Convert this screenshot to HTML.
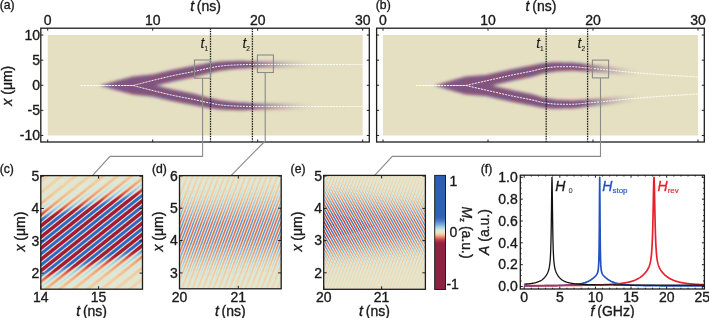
<!DOCTYPE html><html><head><meta charset="utf-8"><style>html,body{margin:0;padding:0;background:#fff;overflow:hidden}svg{display:block}</style></head><body><svg width="709" height="318" viewBox="0 0 709 318" font-family='"Liberation Sans", "DejaVu Sans", sans-serif'>
<defs><pattern id="chk" patternUnits="userSpaceOnUse" x="0" y="0" width="2" height="2"><rect width="2" height="2" fill="#56609c"/><rect width="1" height="1" fill="#84567e"/><rect x="1" y="1" width="1" height="1" fill="#84567e"/></pattern><linearGradient id="sg1" gradientUnits="userSpaceOnUse" spreadMethod="repeat" x1="40.8" y1="175.6" x2="46.26" y2="182.43"><stop offset="0.000" stop-color="#e0e6d3"/><stop offset="0.050" stop-color="#e0e6d2"/><stop offset="0.100" stop-color="#e1e6d1"/><stop offset="0.150" stop-color="#e3e5ce"/><stop offset="0.200" stop-color="#e6e4ca"/><stop offset="0.250" stop-color="#e9e3c6"/><stop offset="0.300" stop-color="#eadebf"/><stop offset="0.350" stop-color="#ebdab9"/><stop offset="0.400" stop-color="#ecd7b4"/><stop offset="0.450" stop-color="#edd5b1"/><stop offset="0.500" stop-color="#edd4b0"/><stop offset="0.550" stop-color="#edd5b1"/><stop offset="0.600" stop-color="#ecd7b4"/><stop offset="0.650" stop-color="#ebdab9"/><stop offset="0.700" stop-color="#eadebf"/><stop offset="0.750" stop-color="#e9e3c6"/><stop offset="0.800" stop-color="#e6e4ca"/><stop offset="0.850" stop-color="#e3e5ce"/><stop offset="0.900" stop-color="#e1e6d1"/><stop offset="0.950" stop-color="#e0e6d2"/><stop offset="1.000" stop-color="#e0e6d3"/></linearGradient><linearGradient id="sg2" gradientUnits="userSpaceOnUse" spreadMethod="repeat" x1="40.8" y1="175.6" x2="46.26" y2="182.43"><stop offset="0.000" stop-color="#dee7d6"/><stop offset="0.050" stop-color="#dee7d5"/><stop offset="0.100" stop-color="#e0e6d3"/><stop offset="0.150" stop-color="#e2e5cf"/><stop offset="0.200" stop-color="#e5e4cb"/><stop offset="0.250" stop-color="#e9e3c6"/><stop offset="0.300" stop-color="#eaddbe"/><stop offset="0.350" stop-color="#ecd8b6"/><stop offset="0.400" stop-color="#edd4b0"/><stop offset="0.450" stop-color="#edd2ad"/><stop offset="0.500" stop-color="#eed1ab"/><stop offset="0.550" stop-color="#edd2ad"/><stop offset="0.600" stop-color="#edd4b0"/><stop offset="0.650" stop-color="#ecd8b6"/><stop offset="0.700" stop-color="#eaddbe"/><stop offset="0.750" stop-color="#e9e3c6"/><stop offset="0.800" stop-color="#e5e4cb"/><stop offset="0.850" stop-color="#e2e5cf"/><stop offset="0.900" stop-color="#e0e6d3"/><stop offset="0.950" stop-color="#dee7d5"/><stop offset="1.000" stop-color="#dee7d6"/></linearGradient><linearGradient id="sg3" gradientUnits="userSpaceOnUse" spreadMethod="repeat" x1="40.8" y1="175.6" x2="46.26" y2="182.43"><stop offset="0.000" stop-color="#dae9db"/><stop offset="0.050" stop-color="#dbe8da"/><stop offset="0.100" stop-color="#dde8d7"/><stop offset="0.150" stop-color="#e0e6d2"/><stop offset="0.200" stop-color="#e4e5cc"/><stop offset="0.250" stop-color="#e9e3c6"/><stop offset="0.300" stop-color="#ebdcbb"/><stop offset="0.350" stop-color="#edd5b1"/><stop offset="0.400" stop-color="#eed0a9"/><stop offset="0.450" stop-color="#efcca4"/><stop offset="0.500" stop-color="#efcba2"/><stop offset="0.550" stop-color="#efcca4"/><stop offset="0.600" stop-color="#eed0a9"/><stop offset="0.650" stop-color="#edd5b1"/><stop offset="0.700" stop-color="#ebdcbb"/><stop offset="0.750" stop-color="#e9e3c6"/><stop offset="0.800" stop-color="#e4e5cc"/><stop offset="0.850" stop-color="#e0e6d2"/><stop offset="0.900" stop-color="#dde8d7"/><stop offset="0.950" stop-color="#dbe8da"/><stop offset="1.000" stop-color="#dae9db"/></linearGradient><linearGradient id="sg4" gradientUnits="userSpaceOnUse" spreadMethod="repeat" x1="40.8" y1="175.6" x2="46.26" y2="182.43"><stop offset="0.000" stop-color="#d6eae0"/><stop offset="0.050" stop-color="#d7eadf"/><stop offset="0.100" stop-color="#dae9db"/><stop offset="0.150" stop-color="#dee7d5"/><stop offset="0.200" stop-color="#e3e5ce"/><stop offset="0.250" stop-color="#e9e3c6"/><stop offset="0.300" stop-color="#ebdab8"/><stop offset="0.350" stop-color="#eed1ac"/><stop offset="0.400" stop-color="#efcba2"/><stop offset="0.450" stop-color="#f0c49b"/><stop offset="0.500" stop-color="#efc198"/><stop offset="0.550" stop-color="#f0c49b"/><stop offset="0.600" stop-color="#efcba2"/><stop offset="0.650" stop-color="#eed1ac"/><stop offset="0.700" stop-color="#ebdab8"/><stop offset="0.750" stop-color="#e9e3c6"/><stop offset="0.800" stop-color="#e3e5ce"/><stop offset="0.850" stop-color="#dee7d5"/><stop offset="0.900" stop-color="#dae9db"/><stop offset="0.950" stop-color="#d7eadf"/><stop offset="1.000" stop-color="#d6eae0"/></linearGradient><linearGradient id="sg5" gradientUnits="userSpaceOnUse" spreadMethod="repeat" x1="40.8" y1="175.6" x2="46.26" y2="182.43"><stop offset="0.000" stop-color="#cde5e1"/><stop offset="0.050" stop-color="#d0e7e1"/><stop offset="0.100" stop-color="#d7eadf"/><stop offset="0.150" stop-color="#dce8d8"/><stop offset="0.200" stop-color="#e2e6d0"/><stop offset="0.250" stop-color="#e9e3c6"/><stop offset="0.300" stop-color="#ecd8b6"/><stop offset="0.350" stop-color="#eecea7"/><stop offset="0.400" stop-color="#efc39a"/><stop offset="0.450" stop-color="#eeb791"/><stop offset="0.500" stop-color="#edb28d"/><stop offset="0.550" stop-color="#eeb791"/><stop offset="0.600" stop-color="#efc39a"/><stop offset="0.650" stop-color="#eecea7"/><stop offset="0.700" stop-color="#ecd8b6"/><stop offset="0.750" stop-color="#e9e3c6"/><stop offset="0.800" stop-color="#e2e6d0"/><stop offset="0.850" stop-color="#dce8d8"/><stop offset="0.900" stop-color="#d7eadf"/><stop offset="0.950" stop-color="#d0e7e1"/><stop offset="1.000" stop-color="#cde5e1"/></linearGradient><linearGradient id="sg6" gradientUnits="userSpaceOnUse" spreadMethod="repeat" x1="40.8" y1="175.6" x2="46.26" y2="182.43"><stop offset="0.000" stop-color="#c4e0e2"/><stop offset="0.050" stop-color="#c7e2e2"/><stop offset="0.100" stop-color="#d0e7e1"/><stop offset="0.150" stop-color="#d9e9db"/><stop offset="0.200" stop-color="#e1e6d1"/><stop offset="0.250" stop-color="#e9e3c6"/><stop offset="0.300" stop-color="#ecd6b3"/><stop offset="0.350" stop-color="#efcaa1"/><stop offset="0.400" stop-color="#eeb791"/><stop offset="0.450" stop-color="#eca986"/><stop offset="0.500" stop-color="#eca482"/><stop offset="0.550" stop-color="#eca986"/><stop offset="0.600" stop-color="#eeb791"/><stop offset="0.650" stop-color="#efcaa1"/><stop offset="0.700" stop-color="#ecd6b3"/><stop offset="0.750" stop-color="#e9e3c6"/><stop offset="0.800" stop-color="#e1e6d1"/><stop offset="0.850" stop-color="#d9e9db"/><stop offset="0.900" stop-color="#d0e7e1"/><stop offset="0.950" stop-color="#c7e2e2"/><stop offset="1.000" stop-color="#c4e0e2"/></linearGradient><linearGradient id="sg7" gradientUnits="userSpaceOnUse" spreadMethod="repeat" x1="40.8" y1="175.6" x2="46.26" y2="182.43"><stop offset="0.000" stop-color="#badce4"/><stop offset="0.050" stop-color="#bedde3"/><stop offset="0.100" stop-color="#c8e3e2"/><stop offset="0.150" stop-color="#d7eade"/><stop offset="0.200" stop-color="#e0e6d3"/><stop offset="0.250" stop-color="#e9e3c6"/><stop offset="0.300" stop-color="#edd4b0"/><stop offset="0.350" stop-color="#f0c59c"/><stop offset="0.400" stop-color="#ecac88"/><stop offset="0.450" stop-color="#ea9b7b"/><stop offset="0.500" stop-color="#ea9577"/><stop offset="0.550" stop-color="#ea9b7b"/><stop offset="0.600" stop-color="#ecac88"/><stop offset="0.650" stop-color="#f0c59c"/><stop offset="0.700" stop-color="#edd4b0"/><stop offset="0.750" stop-color="#e9e3c6"/><stop offset="0.800" stop-color="#e0e6d3"/><stop offset="0.850" stop-color="#d7eade"/><stop offset="0.900" stop-color="#c8e3e2"/><stop offset="0.950" stop-color="#bedde3"/><stop offset="1.000" stop-color="#badce4"/></linearGradient><linearGradient id="sg8" gradientUnits="userSpaceOnUse" spreadMethod="repeat" x1="40.8" y1="175.6" x2="46.26" y2="182.43"><stop offset="0.000" stop-color="#b1d7e5"/><stop offset="0.050" stop-color="#b5d9e4"/><stop offset="0.100" stop-color="#c1dfe3"/><stop offset="0.150" stop-color="#d3e9e0"/><stop offset="0.200" stop-color="#dee7d4"/><stop offset="0.250" stop-color="#e9e3c6"/><stop offset="0.300" stop-color="#edd2ad"/><stop offset="0.350" stop-color="#efbd95"/><stop offset="0.400" stop-color="#eba07f"/><stop offset="0.450" stop-color="#e98d71"/><stop offset="0.500" stop-color="#e8876c"/><stop offset="0.550" stop-color="#e98d71"/><stop offset="0.600" stop-color="#eba07f"/><stop offset="0.650" stop-color="#efbd95"/><stop offset="0.700" stop-color="#edd2ad"/><stop offset="0.750" stop-color="#e9e3c6"/><stop offset="0.800" stop-color="#dee7d4"/><stop offset="0.850" stop-color="#d3e9e0"/><stop offset="0.900" stop-color="#c1dfe3"/><stop offset="0.950" stop-color="#b5d9e4"/><stop offset="1.000" stop-color="#b1d7e5"/></linearGradient><linearGradient id="sg9" gradientUnits="userSpaceOnUse" spreadMethod="repeat" x1="40.8" y1="175.6" x2="46.26" y2="182.43"><stop offset="0.000" stop-color="#a8d2e6"/><stop offset="0.050" stop-color="#add4e5"/><stop offset="0.100" stop-color="#badbe4"/><stop offset="0.150" stop-color="#cee6e1"/><stop offset="0.200" stop-color="#dde7d6"/><stop offset="0.250" stop-color="#e9e3c6"/><stop offset="0.300" stop-color="#eed0ab"/><stop offset="0.350" stop-color="#eeb48f"/><stop offset="0.400" stop-color="#ea9476"/><stop offset="0.450" stop-color="#e57f68"/><stop offset="0.500" stop-color="#e27765"/><stop offset="0.550" stop-color="#e57f68"/><stop offset="0.600" stop-color="#ea9476"/><stop offset="0.650" stop-color="#eeb48f"/><stop offset="0.700" stop-color="#eed0ab"/><stop offset="0.750" stop-color="#e9e3c6"/><stop offset="0.800" stop-color="#dde7d6"/><stop offset="0.850" stop-color="#cee6e1"/><stop offset="0.900" stop-color="#badbe4"/><stop offset="0.950" stop-color="#add4e5"/><stop offset="1.000" stop-color="#a8d2e6"/></linearGradient><linearGradient id="sg10" gradientUnits="userSpaceOnUse" spreadMethod="repeat" x1="40.8" y1="175.6" x2="46.26" y2="182.43"><stop offset="0.000" stop-color="#9fcbe4"/><stop offset="0.050" stop-color="#a4cfe5"/><stop offset="0.100" stop-color="#b2d7e5"/><stop offset="0.150" stop-color="#c9e3e2"/><stop offset="0.200" stop-color="#dce8d8"/><stop offset="0.250" stop-color="#e9e3c6"/><stop offset="0.300" stop-color="#eecfa8"/><stop offset="0.350" stop-color="#edac88"/><stop offset="0.400" stop-color="#e8886d"/><stop offset="0.450" stop-color="#df7062"/><stop offset="0.500" stop-color="#dc685e"/><stop offset="0.550" stop-color="#df7062"/><stop offset="0.600" stop-color="#e8886d"/><stop offset="0.650" stop-color="#edac88"/><stop offset="0.700" stop-color="#eecfa8"/><stop offset="0.750" stop-color="#e9e3c6"/><stop offset="0.800" stop-color="#dce8d8"/><stop offset="0.850" stop-color="#c9e3e2"/><stop offset="0.900" stop-color="#b2d7e5"/><stop offset="0.950" stop-color="#a4cfe5"/><stop offset="1.000" stop-color="#9fcbe4"/></linearGradient><linearGradient id="sg11" gradientUnits="userSpaceOnUse" spreadMethod="repeat" x1="40.8" y1="175.6" x2="46.26" y2="182.43"><stop offset="0.000" stop-color="#97c3e1"/><stop offset="0.050" stop-color="#9cc8e3"/><stop offset="0.100" stop-color="#abd3e6"/><stop offset="0.150" stop-color="#c3e0e2"/><stop offset="0.200" stop-color="#dbe8d9"/><stop offset="0.250" stop-color="#e9e3c6"/><stop offset="0.300" stop-color="#efcda5"/><stop offset="0.350" stop-color="#eba382"/><stop offset="0.400" stop-color="#e47c67"/><stop offset="0.450" stop-color="#da615b"/><stop offset="0.500" stop-color="#d65857"/><stop offset="0.550" stop-color="#da615b"/><stop offset="0.600" stop-color="#e47c67"/><stop offset="0.650" stop-color="#eba382"/><stop offset="0.700" stop-color="#efcda5"/><stop offset="0.750" stop-color="#e9e3c6"/><stop offset="0.800" stop-color="#dbe8d9"/><stop offset="0.850" stop-color="#c3e0e2"/><stop offset="0.900" stop-color="#abd3e6"/><stop offset="0.950" stop-color="#9cc8e3"/><stop offset="1.000" stop-color="#97c3e1"/></linearGradient><linearGradient id="sg12" gradientUnits="userSpaceOnUse" spreadMethod="repeat" x1="40.8" y1="175.6" x2="46.26" y2="182.43"><stop offset="0.000" stop-color="#86b4dd"/><stop offset="0.050" stop-color="#8cb9de"/><stop offset="0.100" stop-color="#9dc8e3"/><stop offset="0.150" stop-color="#b8dbe4"/><stop offset="0.200" stop-color="#d9e9dc"/><stop offset="0.250" stop-color="#e9e3c6"/><stop offset="0.300" stop-color="#f0c9a0"/><stop offset="0.350" stop-color="#e99275"/><stop offset="0.400" stop-color="#da625c"/><stop offset="0.450" stop-color="#ce464f"/><stop offset="0.500" stop-color="#c8404d"/><stop offset="0.550" stop-color="#ce464f"/><stop offset="0.600" stop-color="#da625c"/><stop offset="0.650" stop-color="#e99275"/><stop offset="0.700" stop-color="#f0c9a0"/><stop offset="0.750" stop-color="#e9e3c6"/><stop offset="0.800" stop-color="#d9e9dc"/><stop offset="0.850" stop-color="#b8dbe4"/><stop offset="0.900" stop-color="#9dc8e3"/><stop offset="0.950" stop-color="#8cb9de"/><stop offset="1.000" stop-color="#86b4dd"/></linearGradient><linearGradient id="sg13" gradientUnits="userSpaceOnUse" spreadMethod="repeat" x1="40.8" y1="175.6" x2="46.26" y2="182.43"><stop offset="0.000" stop-color="#75a5d8"/><stop offset="0.050" stop-color="#7babda"/><stop offset="0.100" stop-color="#8fbcdf"/><stop offset="0.150" stop-color="#add5e5"/><stop offset="0.200" stop-color="#d6eae0"/><stop offset="0.250" stop-color="#e9e3c6"/><stop offset="0.300" stop-color="#efc299"/><stop offset="0.350" stop-color="#e68169"/><stop offset="0.400" stop-color="#d04950"/><stop offset="0.450" stop-color="#bf3749"/><stop offset="0.500" stop-color="#ba3247"/><stop offset="0.550" stop-color="#bf3749"/><stop offset="0.600" stop-color="#d04950"/><stop offset="0.650" stop-color="#e68169"/><stop offset="0.700" stop-color="#efc299"/><stop offset="0.750" stop-color="#e9e3c6"/><stop offset="0.800" stop-color="#d6eae0"/><stop offset="0.850" stop-color="#add5e5"/><stop offset="0.900" stop-color="#8fbcdf"/><stop offset="0.950" stop-color="#7babda"/><stop offset="1.000" stop-color="#75a5d8"/></linearGradient><linearGradient id="sg14" gradientUnits="userSpaceOnUse" spreadMethod="repeat" x1="40.8" y1="175.6" x2="46.26" y2="182.43"><stop offset="0.000" stop-color="#6698d4"/><stop offset="0.050" stop-color="#6b9dd6"/><stop offset="0.100" stop-color="#81b0dc"/><stop offset="0.150" stop-color="#a3cee5"/><stop offset="0.200" stop-color="#d1e7e1"/><stop offset="0.250" stop-color="#e9e3c6"/><stop offset="0.300" stop-color="#eeb992"/><stop offset="0.350" stop-color="#df6e61"/><stop offset="0.400" stop-color="#c43c4b"/><stop offset="0.450" stop-color="#b12a44"/><stop offset="0.500" stop-color="#ae2842"/><stop offset="0.550" stop-color="#b12a44"/><stop offset="0.600" stop-color="#c43c4b"/><stop offset="0.650" stop-color="#df6e61"/><stop offset="0.700" stop-color="#eeb992"/><stop offset="0.750" stop-color="#e9e3c6"/><stop offset="0.800" stop-color="#d1e7e1"/><stop offset="0.850" stop-color="#a3cee5"/><stop offset="0.900" stop-color="#81b0dc"/><stop offset="0.950" stop-color="#6b9dd6"/><stop offset="1.000" stop-color="#6698d4"/></linearGradient><linearGradient id="sg15" gradientUnits="userSpaceOnUse" spreadMethod="repeat" x1="40.8" y1="175.6" x2="46.26" y2="182.43"><stop offset="0.000" stop-color="#5a8dcf"/><stop offset="0.050" stop-color="#6092d1"/><stop offset="0.100" stop-color="#73a4d8"/><stop offset="0.150" stop-color="#99c5e2"/><stop offset="0.200" stop-color="#cbe4e1"/><stop offset="0.250" stop-color="#e9e3c6"/><stop offset="0.300" stop-color="#edb08b"/><stop offset="0.350" stop-color="#d75c59"/><stop offset="0.400" stop-color="#b83046"/><stop offset="0.450" stop-color="#a92541"/><stop offset="0.500" stop-color="#a42240"/><stop offset="0.550" stop-color="#a92541"/><stop offset="0.600" stop-color="#b83046"/><stop offset="0.650" stop-color="#d75c59"/><stop offset="0.700" stop-color="#edb08b"/><stop offset="0.750" stop-color="#e9e3c6"/><stop offset="0.800" stop-color="#cbe4e1"/><stop offset="0.850" stop-color="#99c5e2"/><stop offset="0.900" stop-color="#73a4d8"/><stop offset="0.950" stop-color="#6092d1"/><stop offset="1.000" stop-color="#5a8dcf"/></linearGradient><linearGradient id="sg16" gradientUnits="userSpaceOnUse" spreadMethod="repeat" x1="40.8" y1="175.6" x2="46.26" y2="182.43"><stop offset="0.000" stop-color="#4e81cb"/><stop offset="0.050" stop-color="#5487cd"/><stop offset="0.100" stop-color="#6799d4"/><stop offset="0.150" stop-color="#8fbcdf"/><stop offset="0.200" stop-color="#c5e1e2"/><stop offset="0.250" stop-color="#e9e3c6"/><stop offset="0.300" stop-color="#eca784"/><stop offset="0.350" stop-color="#d04950"/><stop offset="0.400" stop-color="#ae2843"/><stop offset="0.450" stop-color="#a0203e"/><stop offset="0.500" stop-color="#a0203e"/><stop offset="0.550" stop-color="#a0203e"/><stop offset="0.600" stop-color="#ae2843"/><stop offset="0.650" stop-color="#d04950"/><stop offset="0.700" stop-color="#eca784"/><stop offset="0.750" stop-color="#e9e3c6"/><stop offset="0.800" stop-color="#c5e1e2"/><stop offset="0.850" stop-color="#8fbcdf"/><stop offset="0.900" stop-color="#6799d4"/><stop offset="0.950" stop-color="#5487cd"/><stop offset="1.000" stop-color="#4e81cb"/></linearGradient><linearGradient id="sg17" gradientUnits="userSpaceOnUse" spreadMethod="repeat" x1="40.8" y1="175.6" x2="46.26" y2="182.43"><stop offset="0.000" stop-color="#4276c6"/><stop offset="0.050" stop-color="#497dc9"/><stop offset="0.100" stop-color="#5e90d1"/><stop offset="0.150" stop-color="#85b3dd"/><stop offset="0.200" stop-color="#c0dee3"/><stop offset="0.250" stop-color="#e9e3c6"/><stop offset="0.300" stop-color="#eb9e7e"/><stop offset="0.350" stop-color="#c8404d"/><stop offset="0.400" stop-color="#a72440"/><stop offset="0.450" stop-color="#a01f3d"/><stop offset="0.500" stop-color="#9f1f3d"/><stop offset="0.550" stop-color="#a01f3d"/><stop offset="0.600" stop-color="#a72440"/><stop offset="0.650" stop-color="#c8404d"/><stop offset="0.700" stop-color="#eb9e7e"/><stop offset="0.750" stop-color="#e9e3c6"/><stop offset="0.800" stop-color="#c0dee3"/><stop offset="0.850" stop-color="#85b3dd"/><stop offset="0.900" stop-color="#5e90d1"/><stop offset="0.950" stop-color="#497dc9"/><stop offset="1.000" stop-color="#4276c6"/></linearGradient><linearGradient id="sg18" gradientUnits="userSpaceOnUse" spreadMethod="repeat" x1="40.8" y1="175.6" x2="46.26" y2="182.43"><stop offset="0.000" stop-color="#3a6ec3"/><stop offset="0.050" stop-color="#3e72c5"/><stop offset="0.100" stop-color="#5487cd"/><stop offset="0.150" stop-color="#7babda"/><stop offset="0.200" stop-color="#badbe4"/><stop offset="0.250" stop-color="#e9e3c6"/><stop offset="0.300" stop-color="#ea9577"/><stop offset="0.350" stop-color="#bf3749"/><stop offset="0.400" stop-color="#a0203e"/><stop offset="0.450" stop-color="#9f1e3c"/><stop offset="0.500" stop-color="#9f1e3c"/><stop offset="0.550" stop-color="#9f1e3c"/><stop offset="0.600" stop-color="#a0203e"/><stop offset="0.650" stop-color="#bf3749"/><stop offset="0.700" stop-color="#ea9577"/><stop offset="0.750" stop-color="#e9e3c6"/><stop offset="0.800" stop-color="#badbe4"/><stop offset="0.850" stop-color="#7babda"/><stop offset="0.900" stop-color="#5487cd"/><stop offset="0.950" stop-color="#3e72c5"/><stop offset="1.000" stop-color="#3a6ec3"/></linearGradient><linearGradient id="sg19" gradientUnits="userSpaceOnUse" spreadMethod="repeat" x1="40.8" y1="175.6" x2="46.26" y2="182.43"><stop offset="0.000" stop-color="#356bc2"/><stop offset="0.050" stop-color="#386dc3"/><stop offset="0.100" stop-color="#4a7dc9"/><stop offset="0.150" stop-color="#71a2d7"/><stop offset="0.200" stop-color="#b4d8e4"/><stop offset="0.250" stop-color="#e9e3c6"/><stop offset="0.300" stop-color="#e98c70"/><stop offset="0.350" stop-color="#b62e46"/><stop offset="0.400" stop-color="#a01f3d"/><stop offset="0.450" stop-color="#9f1d3b"/><stop offset="0.500" stop-color="#9e1d3b"/><stop offset="0.550" stop-color="#9f1d3b"/><stop offset="0.600" stop-color="#a01f3d"/><stop offset="0.650" stop-color="#b62e46"/><stop offset="0.700" stop-color="#e98c70"/><stop offset="0.750" stop-color="#e9e3c6"/><stop offset="0.800" stop-color="#b4d8e4"/><stop offset="0.850" stop-color="#71a2d7"/><stop offset="0.900" stop-color="#4a7dc9"/><stop offset="0.950" stop-color="#386dc3"/><stop offset="1.000" stop-color="#356bc2"/></linearGradient><linearGradient id="sg20" gradientUnits="userSpaceOnUse" spreadMethod="repeat" x1="40.8" y1="175.6" x2="46.26" y2="182.43"><stop offset="0.000" stop-color="#2c64c0"/><stop offset="0.050" stop-color="#2c64c0"/><stop offset="0.100" stop-color="#366cc3"/><stop offset="0.150" stop-color="#5a8dcf"/><stop offset="0.200" stop-color="#a4cee5"/><stop offset="0.250" stop-color="#e9e3c6"/><stop offset="0.300" stop-color="#df6f61"/><stop offset="0.350" stop-color="#a52340"/><stop offset="0.400" stop-color="#9f1d3b"/><stop offset="0.450" stop-color="#9e1c3a"/><stop offset="0.500" stop-color="#9e1c3a"/><stop offset="0.550" stop-color="#9e1c3a"/><stop offset="0.600" stop-color="#9f1d3b"/><stop offset="0.650" stop-color="#a52340"/><stop offset="0.700" stop-color="#df6f61"/><stop offset="0.750" stop-color="#e9e3c6"/><stop offset="0.800" stop-color="#a4cee5"/><stop offset="0.850" stop-color="#5a8dcf"/><stop offset="0.900" stop-color="#366cc3"/><stop offset="0.950" stop-color="#2c64c0"/><stop offset="1.000" stop-color="#2c64c0"/></linearGradient><linearGradient id="sg21" gradientUnits="userSpaceOnUse" spreadMethod="repeat" x1="179.5" y1="175.6" x2="184.14" y2="177.35"><stop offset="0.000" stop-color="#dce8d8"/><stop offset="0.050" stop-color="#dde8d7"/><stop offset="0.100" stop-color="#dfe7d4"/><stop offset="0.150" stop-color="#e1e6d0"/><stop offset="0.200" stop-color="#e5e4cb"/><stop offset="0.250" stop-color="#e9e3c6"/><stop offset="0.300" stop-color="#eadfc1"/><stop offset="0.350" stop-color="#ebdcbc"/><stop offset="0.400" stop-color="#ecd9b8"/><stop offset="0.450" stop-color="#ecd8b5"/><stop offset="0.500" stop-color="#ecd7b4"/><stop offset="0.550" stop-color="#ecd8b5"/><stop offset="0.600" stop-color="#ecd9b8"/><stop offset="0.650" stop-color="#ebdcbc"/><stop offset="0.700" stop-color="#eadfc1"/><stop offset="0.750" stop-color="#e9e3c6"/><stop offset="0.800" stop-color="#e5e4cb"/><stop offset="0.850" stop-color="#e1e6d0"/><stop offset="0.900" stop-color="#dfe7d4"/><stop offset="0.950" stop-color="#dde8d7"/><stop offset="1.000" stop-color="#dce8d8"/></linearGradient><linearGradient id="sg22" gradientUnits="userSpaceOnUse" spreadMethod="repeat" x1="179.5" y1="175.6" x2="184.14" y2="177.35"><stop offset="0.000" stop-color="#d5eae0"/><stop offset="0.050" stop-color="#d7eadf"/><stop offset="0.100" stop-color="#d9e9db"/><stop offset="0.150" stop-color="#dee7d6"/><stop offset="0.200" stop-color="#e3e5ce"/><stop offset="0.250" stop-color="#e9e3c6"/><stop offset="0.300" stop-color="#eaddbe"/><stop offset="0.350" stop-color="#ecd8b6"/><stop offset="0.400" stop-color="#edd4b0"/><stop offset="0.450" stop-color="#edd2ad"/><stop offset="0.500" stop-color="#eed1ab"/><stop offset="0.550" stop-color="#edd2ad"/><stop offset="0.600" stop-color="#edd4b0"/><stop offset="0.650" stop-color="#ecd8b6"/><stop offset="0.700" stop-color="#eaddbe"/><stop offset="0.750" stop-color="#e9e3c6"/><stop offset="0.800" stop-color="#e3e5ce"/><stop offset="0.850" stop-color="#dee7d6"/><stop offset="0.900" stop-color="#d9e9db"/><stop offset="0.950" stop-color="#d7eadf"/><stop offset="1.000" stop-color="#d5eae0"/></linearGradient><linearGradient id="sg23" gradientUnits="userSpaceOnUse" spreadMethod="repeat" x1="179.5" y1="175.6" x2="184.14" y2="177.35"><stop offset="0.000" stop-color="#c5e1e2"/><stop offset="0.050" stop-color="#c9e3e2"/><stop offset="0.100" stop-color="#d1e8e1"/><stop offset="0.150" stop-color="#dae9db"/><stop offset="0.200" stop-color="#e1e6d1"/><stop offset="0.250" stop-color="#e9e3c6"/><stop offset="0.300" stop-color="#ebdcbb"/><stop offset="0.350" stop-color="#edd5b1"/><stop offset="0.400" stop-color="#eed0a9"/><stop offset="0.450" stop-color="#efcca4"/><stop offset="0.500" stop-color="#efcba2"/><stop offset="0.550" stop-color="#efcca4"/><stop offset="0.600" stop-color="#eed0a9"/><stop offset="0.650" stop-color="#edd5b1"/><stop offset="0.700" stop-color="#ebdcbb"/><stop offset="0.750" stop-color="#e9e3c6"/><stop offset="0.800" stop-color="#e1e6d1"/><stop offset="0.850" stop-color="#dae9db"/><stop offset="0.900" stop-color="#d1e8e1"/><stop offset="0.950" stop-color="#c9e3e2"/><stop offset="1.000" stop-color="#c5e1e2"/></linearGradient><linearGradient id="sg24" gradientUnits="userSpaceOnUse" spreadMethod="repeat" x1="179.5" y1="175.6" x2="184.14" y2="177.35"><stop offset="0.000" stop-color="#b6d9e4"/><stop offset="0.050" stop-color="#badbe4"/><stop offset="0.100" stop-color="#c5e1e2"/><stop offset="0.150" stop-color="#d6eae0"/><stop offset="0.200" stop-color="#dfe7d4"/><stop offset="0.250" stop-color="#e9e3c6"/><stop offset="0.300" stop-color="#ebdab8"/><stop offset="0.350" stop-color="#eed1ac"/><stop offset="0.400" stop-color="#efcba2"/><stop offset="0.450" stop-color="#f0c49b"/><stop offset="0.500" stop-color="#efc198"/><stop offset="0.550" stop-color="#f0c49b"/><stop offset="0.600" stop-color="#efcba2"/><stop offset="0.650" stop-color="#eed1ac"/><stop offset="0.700" stop-color="#ebdab8"/><stop offset="0.750" stop-color="#e9e3c6"/><stop offset="0.800" stop-color="#dfe7d4"/><stop offset="0.850" stop-color="#d6eae0"/><stop offset="0.900" stop-color="#c5e1e2"/><stop offset="0.950" stop-color="#badbe4"/><stop offset="1.000" stop-color="#b6d9e4"/></linearGradient><linearGradient id="sg25" gradientUnits="userSpaceOnUse" spreadMethod="repeat" x1="179.5" y1="175.6" x2="184.14" y2="177.35"><stop offset="0.000" stop-color="#a6d1e6"/><stop offset="0.050" stop-color="#abd3e6"/><stop offset="0.100" stop-color="#b8dae4"/><stop offset="0.150" stop-color="#cde5e1"/><stop offset="0.200" stop-color="#dde7d6"/><stop offset="0.250" stop-color="#e9e3c6"/><stop offset="0.300" stop-color="#ecd8b6"/><stop offset="0.350" stop-color="#eecea7"/><stop offset="0.400" stop-color="#efc39a"/><stop offset="0.450" stop-color="#eeb791"/><stop offset="0.500" stop-color="#edb28d"/><stop offset="0.550" stop-color="#eeb791"/><stop offset="0.600" stop-color="#efc39a"/><stop offset="0.650" stop-color="#eecea7"/><stop offset="0.700" stop-color="#ecd8b6"/><stop offset="0.750" stop-color="#e9e3c6"/><stop offset="0.800" stop-color="#dde7d6"/><stop offset="0.850" stop-color="#cde5e1"/><stop offset="0.900" stop-color="#b8dae4"/><stop offset="0.950" stop-color="#abd3e6"/><stop offset="1.000" stop-color="#a6d1e6"/></linearGradient><linearGradient id="sg26" gradientUnits="userSpaceOnUse" spreadMethod="repeat" x1="179.5" y1="175.6" x2="184.14" y2="177.35"><stop offset="0.000" stop-color="#98c4e2"/><stop offset="0.050" stop-color="#9dc8e3"/><stop offset="0.100" stop-color="#abd4e6"/><stop offset="0.150" stop-color="#c4e0e2"/><stop offset="0.200" stop-color="#dbe8d9"/><stop offset="0.250" stop-color="#e9e3c6"/><stop offset="0.300" stop-color="#ecd6b3"/><stop offset="0.350" stop-color="#efcaa1"/><stop offset="0.400" stop-color="#eeb791"/><stop offset="0.450" stop-color="#eca986"/><stop offset="0.500" stop-color="#eca482"/><stop offset="0.550" stop-color="#eca986"/><stop offset="0.600" stop-color="#eeb791"/><stop offset="0.650" stop-color="#efcaa1"/><stop offset="0.700" stop-color="#ecd6b3"/><stop offset="0.750" stop-color="#e9e3c6"/><stop offset="0.800" stop-color="#dbe8d9"/><stop offset="0.850" stop-color="#c4e0e2"/><stop offset="0.900" stop-color="#abd4e6"/><stop offset="0.950" stop-color="#9dc8e3"/><stop offset="1.000" stop-color="#98c4e2"/></linearGradient><linearGradient id="sg27" gradientUnits="userSpaceOnUse" spreadMethod="repeat" x1="179.5" y1="175.6" x2="184.14" y2="177.35"><stop offset="0.000" stop-color="#89b7de"/><stop offset="0.050" stop-color="#8fbcdf"/><stop offset="0.100" stop-color="#9fcbe4"/><stop offset="0.150" stop-color="#badce4"/><stop offset="0.200" stop-color="#d9e9dc"/><stop offset="0.250" stop-color="#e9e3c6"/><stop offset="0.300" stop-color="#edd4b0"/><stop offset="0.350" stop-color="#f0c59c"/><stop offset="0.400" stop-color="#ecac88"/><stop offset="0.450" stop-color="#ea9b7b"/><stop offset="0.500" stop-color="#ea9577"/><stop offset="0.550" stop-color="#ea9b7b"/><stop offset="0.600" stop-color="#ecac88"/><stop offset="0.650" stop-color="#f0c59c"/><stop offset="0.700" stop-color="#edd4b0"/><stop offset="0.750" stop-color="#e9e3c6"/><stop offset="0.800" stop-color="#d9e9dc"/><stop offset="0.850" stop-color="#badce4"/><stop offset="0.900" stop-color="#9fcbe4"/><stop offset="0.950" stop-color="#8fbcdf"/><stop offset="1.000" stop-color="#89b7de"/></linearGradient><linearGradient id="sg28" gradientUnits="userSpaceOnUse" spreadMethod="repeat" x1="179.5" y1="175.6" x2="184.14" y2="177.35"><stop offset="0.000" stop-color="#7babda"/><stop offset="0.050" stop-color="#81b0dc"/><stop offset="0.100" stop-color="#94c0e1"/><stop offset="0.150" stop-color="#b1d7e5"/><stop offset="0.200" stop-color="#d7eadf"/><stop offset="0.250" stop-color="#e9e3c6"/><stop offset="0.300" stop-color="#edd2ad"/><stop offset="0.350" stop-color="#efbd95"/><stop offset="0.400" stop-color="#eba07f"/><stop offset="0.450" stop-color="#e98d71"/><stop offset="0.500" stop-color="#e8876c"/><stop offset="0.550" stop-color="#e98d71"/><stop offset="0.600" stop-color="#eba07f"/><stop offset="0.650" stop-color="#efbd95"/><stop offset="0.700" stop-color="#edd2ad"/><stop offset="0.750" stop-color="#e9e3c6"/><stop offset="0.800" stop-color="#d7eadf"/><stop offset="0.850" stop-color="#b1d7e5"/><stop offset="0.900" stop-color="#94c0e1"/><stop offset="0.950" stop-color="#81b0dc"/><stop offset="1.000" stop-color="#7babda"/></linearGradient><linearGradient id="sg29" gradientUnits="userSpaceOnUse" spreadMethod="repeat" x1="179.5" y1="175.6" x2="184.14" y2="177.35"><stop offset="0.000" stop-color="#6c9ed6"/><stop offset="0.050" stop-color="#73a4d8"/><stop offset="0.100" stop-color="#88b6dd"/><stop offset="0.150" stop-color="#a8d2e6"/><stop offset="0.200" stop-color="#d4e9e0"/><stop offset="0.250" stop-color="#e9e3c6"/><stop offset="0.300" stop-color="#eed0ab"/><stop offset="0.350" stop-color="#eeb48f"/><stop offset="0.400" stop-color="#ea9476"/><stop offset="0.450" stop-color="#e57f68"/><stop offset="0.500" stop-color="#e27765"/><stop offset="0.550" stop-color="#e57f68"/><stop offset="0.600" stop-color="#ea9476"/><stop offset="0.650" stop-color="#eeb48f"/><stop offset="0.700" stop-color="#eed0ab"/><stop offset="0.750" stop-color="#e9e3c6"/><stop offset="0.800" stop-color="#d4e9e0"/><stop offset="0.850" stop-color="#a8d2e6"/><stop offset="0.900" stop-color="#88b6dd"/><stop offset="0.950" stop-color="#73a4d8"/><stop offset="1.000" stop-color="#6c9ed6"/></linearGradient><linearGradient id="sg30" gradientUnits="userSpaceOnUse" spreadMethod="repeat" x1="179.5" y1="175.6" x2="184.14" y2="177.35"><stop offset="0.000" stop-color="#6294d2"/><stop offset="0.050" stop-color="#6799d4"/><stop offset="0.100" stop-color="#7cacda"/><stop offset="0.150" stop-color="#a0cbe4"/><stop offset="0.200" stop-color="#cfe6e1"/><stop offset="0.250" stop-color="#e9e3c6"/><stop offset="0.300" stop-color="#eecfa8"/><stop offset="0.350" stop-color="#edac88"/><stop offset="0.400" stop-color="#e8886d"/><stop offset="0.450" stop-color="#df7062"/><stop offset="0.500" stop-color="#dc685e"/><stop offset="0.550" stop-color="#df7062"/><stop offset="0.600" stop-color="#e8886d"/><stop offset="0.650" stop-color="#edac88"/><stop offset="0.700" stop-color="#eecfa8"/><stop offset="0.750" stop-color="#e9e3c6"/><stop offset="0.800" stop-color="#cfe6e1"/><stop offset="0.850" stop-color="#a0cbe4"/><stop offset="0.900" stop-color="#7cacda"/><stop offset="0.950" stop-color="#6799d4"/><stop offset="1.000" stop-color="#6294d2"/></linearGradient><linearGradient id="sg31" gradientUnits="userSpaceOnUse" spreadMethod="repeat" x1="179.5" y1="175.6" x2="184.14" y2="177.35"><stop offset="0.000" stop-color="#588ace"/><stop offset="0.050" stop-color="#5e90d1"/><stop offset="0.100" stop-color="#70a2d7"/><stop offset="0.150" stop-color="#97c3e1"/><stop offset="0.200" stop-color="#cae4e2"/><stop offset="0.250" stop-color="#e9e3c6"/><stop offset="0.300" stop-color="#efcda5"/><stop offset="0.350" stop-color="#eba382"/><stop offset="0.400" stop-color="#e47c67"/><stop offset="0.450" stop-color="#da615b"/><stop offset="0.500" stop-color="#d65857"/><stop offset="0.550" stop-color="#da615b"/><stop offset="0.600" stop-color="#e47c67"/><stop offset="0.650" stop-color="#eba382"/><stop offset="0.700" stop-color="#efcda5"/><stop offset="0.750" stop-color="#e9e3c6"/><stop offset="0.800" stop-color="#cae4e2"/><stop offset="0.850" stop-color="#97c3e1"/><stop offset="0.900" stop-color="#70a2d7"/><stop offset="0.950" stop-color="#5e90d1"/><stop offset="1.000" stop-color="#588ace"/></linearGradient><linearGradient id="sg32" gradientUnits="userSpaceOnUse" spreadMethod="repeat" x1="323.7" y1="175.4" x2="326.61" y2="176.47"><stop offset="0.000" stop-color="#e1e6d1"/><stop offset="0.050" stop-color="#e2e6d0"/><stop offset="0.100" stop-color="#e3e5cf"/><stop offset="0.150" stop-color="#e4e5cc"/><stop offset="0.200" stop-color="#e7e4c9"/><stop offset="0.250" stop-color="#e9e3c6"/><stop offset="0.300" stop-color="#eae1c3"/><stop offset="0.350" stop-color="#eadfc0"/><stop offset="0.400" stop-color="#ebddbd"/><stop offset="0.450" stop-color="#ebdcbc"/><stop offset="0.500" stop-color="#ebdcbb"/><stop offset="0.550" stop-color="#ebdcbc"/><stop offset="0.600" stop-color="#ebddbd"/><stop offset="0.650" stop-color="#eadfc0"/><stop offset="0.700" stop-color="#eae1c3"/><stop offset="0.750" stop-color="#e9e3c6"/><stop offset="0.800" stop-color="#e7e4c9"/><stop offset="0.850" stop-color="#e4e5cc"/><stop offset="0.900" stop-color="#e3e5cf"/><stop offset="0.950" stop-color="#e2e6d0"/><stop offset="1.000" stop-color="#e1e6d1"/></linearGradient><linearGradient id="sg33" gradientUnits="userSpaceOnUse" spreadMethod="repeat" x1="323.7" y1="175.4" x2="326.61" y2="176.47"><stop offset="0.000" stop-color="#dce8d8"/><stop offset="0.050" stop-color="#dde8d7"/><stop offset="0.100" stop-color="#dfe7d4"/><stop offset="0.150" stop-color="#e1e6d0"/><stop offset="0.200" stop-color="#e5e4cb"/><stop offset="0.250" stop-color="#e9e3c6"/><stop offset="0.300" stop-color="#eadfc1"/><stop offset="0.350" stop-color="#ebdcbc"/><stop offset="0.400" stop-color="#ecd9b8"/><stop offset="0.450" stop-color="#ecd8b5"/><stop offset="0.500" stop-color="#ecd7b4"/><stop offset="0.550" stop-color="#ecd8b5"/><stop offset="0.600" stop-color="#ecd9b8"/><stop offset="0.650" stop-color="#ebdcbc"/><stop offset="0.700" stop-color="#eadfc1"/><stop offset="0.750" stop-color="#e9e3c6"/><stop offset="0.800" stop-color="#e5e4cb"/><stop offset="0.850" stop-color="#e1e6d0"/><stop offset="0.900" stop-color="#dfe7d4"/><stop offset="0.950" stop-color="#dde8d7"/><stop offset="1.000" stop-color="#dce8d8"/></linearGradient><linearGradient id="sg34" gradientUnits="userSpaceOnUse" spreadMethod="repeat" x1="323.7" y1="175.4" x2="326.61" y2="176.47"><stop offset="0.000" stop-color="#d5eae0"/><stop offset="0.050" stop-color="#d7eadf"/><stop offset="0.100" stop-color="#d9e9db"/><stop offset="0.150" stop-color="#dee7d6"/><stop offset="0.200" stop-color="#e3e5ce"/><stop offset="0.250" stop-color="#e9e3c6"/><stop offset="0.300" stop-color="#eaddbe"/><stop offset="0.350" stop-color="#ecd8b6"/><stop offset="0.400" stop-color="#edd4b0"/><stop offset="0.450" stop-color="#edd2ad"/><stop offset="0.500" stop-color="#eed1ab"/><stop offset="0.550" stop-color="#edd2ad"/><stop offset="0.600" stop-color="#edd4b0"/><stop offset="0.650" stop-color="#ecd8b6"/><stop offset="0.700" stop-color="#eaddbe"/><stop offset="0.750" stop-color="#e9e3c6"/><stop offset="0.800" stop-color="#e3e5ce"/><stop offset="0.850" stop-color="#dee7d6"/><stop offset="0.900" stop-color="#d9e9db"/><stop offset="0.950" stop-color="#d7eadf"/><stop offset="1.000" stop-color="#d5eae0"/></linearGradient><linearGradient id="sg35" gradientUnits="userSpaceOnUse" spreadMethod="repeat" x1="323.7" y1="175.4" x2="326.61" y2="176.47"><stop offset="0.000" stop-color="#c5e1e2"/><stop offset="0.050" stop-color="#c9e3e2"/><stop offset="0.100" stop-color="#d1e8e1"/><stop offset="0.150" stop-color="#dae9db"/><stop offset="0.200" stop-color="#e1e6d1"/><stop offset="0.250" stop-color="#e9e3c6"/><stop offset="0.300" stop-color="#ebdcbb"/><stop offset="0.350" stop-color="#edd5b1"/><stop offset="0.400" stop-color="#eed0a9"/><stop offset="0.450" stop-color="#efcca4"/><stop offset="0.500" stop-color="#efcba2"/><stop offset="0.550" stop-color="#efcca4"/><stop offset="0.600" stop-color="#eed0a9"/><stop offset="0.650" stop-color="#edd5b1"/><stop offset="0.700" stop-color="#ebdcbb"/><stop offset="0.750" stop-color="#e9e3c6"/><stop offset="0.800" stop-color="#e1e6d1"/><stop offset="0.850" stop-color="#dae9db"/><stop offset="0.900" stop-color="#d1e8e1"/><stop offset="0.950" stop-color="#c9e3e2"/><stop offset="1.000" stop-color="#c5e1e2"/></linearGradient><linearGradient id="sg36" gradientUnits="userSpaceOnUse" spreadMethod="repeat" x1="323.7" y1="175.4" x2="326.61" y2="176.47"><stop offset="0.000" stop-color="#b6d9e4"/><stop offset="0.050" stop-color="#badbe4"/><stop offset="0.100" stop-color="#c5e1e2"/><stop offset="0.150" stop-color="#d6eae0"/><stop offset="0.200" stop-color="#dfe7d4"/><stop offset="0.250" stop-color="#e9e3c6"/><stop offset="0.300" stop-color="#ebdab8"/><stop offset="0.350" stop-color="#eed1ac"/><stop offset="0.400" stop-color="#efcba2"/><stop offset="0.450" stop-color="#f0c49b"/><stop offset="0.500" stop-color="#efc198"/><stop offset="0.550" stop-color="#f0c49b"/><stop offset="0.600" stop-color="#efcba2"/><stop offset="0.650" stop-color="#eed1ac"/><stop offset="0.700" stop-color="#ebdab8"/><stop offset="0.750" stop-color="#e9e3c6"/><stop offset="0.800" stop-color="#dfe7d4"/><stop offset="0.850" stop-color="#d6eae0"/><stop offset="0.900" stop-color="#c5e1e2"/><stop offset="0.950" stop-color="#badbe4"/><stop offset="1.000" stop-color="#b6d9e4"/></linearGradient><linearGradient id="sg37" gradientUnits="userSpaceOnUse" spreadMethod="repeat" x1="323.7" y1="175.4" x2="326.61" y2="176.47"><stop offset="0.000" stop-color="#a6d1e6"/><stop offset="0.050" stop-color="#abd3e6"/><stop offset="0.100" stop-color="#b8dae4"/><stop offset="0.150" stop-color="#cde5e1"/><stop offset="0.200" stop-color="#dde7d6"/><stop offset="0.250" stop-color="#e9e3c6"/><stop offset="0.300" stop-color="#ecd8b6"/><stop offset="0.350" stop-color="#eecea7"/><stop offset="0.400" stop-color="#efc39a"/><stop offset="0.450" stop-color="#eeb791"/><stop offset="0.500" stop-color="#edb28d"/><stop offset="0.550" stop-color="#eeb791"/><stop offset="0.600" stop-color="#efc39a"/><stop offset="0.650" stop-color="#eecea7"/><stop offset="0.700" stop-color="#ecd8b6"/><stop offset="0.750" stop-color="#e9e3c6"/><stop offset="0.800" stop-color="#dde7d6"/><stop offset="0.850" stop-color="#cde5e1"/><stop offset="0.900" stop-color="#b8dae4"/><stop offset="0.950" stop-color="#abd3e6"/><stop offset="1.000" stop-color="#a6d1e6"/></linearGradient><linearGradient id="sg38" gradientUnits="userSpaceOnUse" spreadMethod="repeat" x1="323.7" y1="175.4" x2="326.61" y2="176.47"><stop offset="0.000" stop-color="#98c4e2"/><stop offset="0.050" stop-color="#9dc8e3"/><stop offset="0.100" stop-color="#abd4e6"/><stop offset="0.150" stop-color="#c4e0e2"/><stop offset="0.200" stop-color="#dbe8d9"/><stop offset="0.250" stop-color="#e9e3c6"/><stop offset="0.300" stop-color="#ecd6b3"/><stop offset="0.350" stop-color="#efcaa1"/><stop offset="0.400" stop-color="#eeb791"/><stop offset="0.450" stop-color="#eca986"/><stop offset="0.500" stop-color="#eca482"/><stop offset="0.550" stop-color="#eca986"/><stop offset="0.600" stop-color="#eeb791"/><stop offset="0.650" stop-color="#efcaa1"/><stop offset="0.700" stop-color="#ecd6b3"/><stop offset="0.750" stop-color="#e9e3c6"/><stop offset="0.800" stop-color="#dbe8d9"/><stop offset="0.850" stop-color="#c4e0e2"/><stop offset="0.900" stop-color="#abd4e6"/><stop offset="0.950" stop-color="#9dc8e3"/><stop offset="1.000" stop-color="#98c4e2"/></linearGradient><linearGradient id="sg39" gradientUnits="userSpaceOnUse" spreadMethod="repeat" x1="323.7" y1="175.4" x2="326.61" y2="176.47"><stop offset="0.000" stop-color="#89b7de"/><stop offset="0.050" stop-color="#8fbcdf"/><stop offset="0.100" stop-color="#9fcbe4"/><stop offset="0.150" stop-color="#badce4"/><stop offset="0.200" stop-color="#d9e9dc"/><stop offset="0.250" stop-color="#e9e3c6"/><stop offset="0.300" stop-color="#edd4b0"/><stop offset="0.350" stop-color="#f0c59c"/><stop offset="0.400" stop-color="#ecac88"/><stop offset="0.450" stop-color="#ea9b7b"/><stop offset="0.500" stop-color="#ea9577"/><stop offset="0.550" stop-color="#ea9b7b"/><stop offset="0.600" stop-color="#ecac88"/><stop offset="0.650" stop-color="#f0c59c"/><stop offset="0.700" stop-color="#edd4b0"/><stop offset="0.750" stop-color="#e9e3c6"/><stop offset="0.800" stop-color="#d9e9dc"/><stop offset="0.850" stop-color="#badce4"/><stop offset="0.900" stop-color="#9fcbe4"/><stop offset="0.950" stop-color="#8fbcdf"/><stop offset="1.000" stop-color="#89b7de"/></linearGradient><linearGradient id="sg40" gradientUnits="userSpaceOnUse" spreadMethod="repeat" x1="323.7" y1="175.4" x2="326.61" y2="176.47"><stop offset="0.000" stop-color="#7babda"/><stop offset="0.050" stop-color="#81b0dc"/><stop offset="0.100" stop-color="#94c0e1"/><stop offset="0.150" stop-color="#b1d7e5"/><stop offset="0.200" stop-color="#d7eadf"/><stop offset="0.250" stop-color="#e9e3c6"/><stop offset="0.300" stop-color="#edd2ad"/><stop offset="0.350" stop-color="#efbd95"/><stop offset="0.400" stop-color="#eba07f"/><stop offset="0.450" stop-color="#e98d71"/><stop offset="0.500" stop-color="#e8876c"/><stop offset="0.550" stop-color="#e98d71"/><stop offset="0.600" stop-color="#eba07f"/><stop offset="0.650" stop-color="#efbd95"/><stop offset="0.700" stop-color="#edd2ad"/><stop offset="0.750" stop-color="#e9e3c6"/><stop offset="0.800" stop-color="#d7eadf"/><stop offset="0.850" stop-color="#b1d7e5"/><stop offset="0.900" stop-color="#94c0e1"/><stop offset="0.950" stop-color="#81b0dc"/><stop offset="1.000" stop-color="#7babda"/></linearGradient><linearGradient id="sg41" gradientUnits="userSpaceOnUse" spreadMethod="repeat" x1="323.7" y1="175.4" x2="326.61" y2="176.47"><stop offset="0.000" stop-color="#6c9ed6"/><stop offset="0.050" stop-color="#73a4d8"/><stop offset="0.100" stop-color="#88b6dd"/><stop offset="0.150" stop-color="#a8d2e6"/><stop offset="0.200" stop-color="#d4e9e0"/><stop offset="0.250" stop-color="#e9e3c6"/><stop offset="0.300" stop-color="#eed0ab"/><stop offset="0.350" stop-color="#eeb48f"/><stop offset="0.400" stop-color="#ea9476"/><stop offset="0.450" stop-color="#e57f68"/><stop offset="0.500" stop-color="#e27765"/><stop offset="0.550" stop-color="#e57f68"/><stop offset="0.600" stop-color="#ea9476"/><stop offset="0.650" stop-color="#eeb48f"/><stop offset="0.700" stop-color="#eed0ab"/><stop offset="0.750" stop-color="#e9e3c6"/><stop offset="0.800" stop-color="#d4e9e0"/><stop offset="0.850" stop-color="#a8d2e6"/><stop offset="0.900" stop-color="#88b6dd"/><stop offset="0.950" stop-color="#73a4d8"/><stop offset="1.000" stop-color="#6c9ed6"/></linearGradient><linearGradient id="sg42" gradientUnits="userSpaceOnUse" spreadMethod="repeat" x1="323.7" y1="175.4" x2="326.61" y2="176.47"><stop offset="0.000" stop-color="#6294d2"/><stop offset="0.050" stop-color="#6799d4"/><stop offset="0.100" stop-color="#7cacda"/><stop offset="0.150" stop-color="#a0cbe4"/><stop offset="0.200" stop-color="#cfe6e1"/><stop offset="0.250" stop-color="#e9e3c6"/><stop offset="0.300" stop-color="#eecfa8"/><stop offset="0.350" stop-color="#edac88"/><stop offset="0.400" stop-color="#e8886d"/><stop offset="0.450" stop-color="#df7062"/><stop offset="0.500" stop-color="#dc685e"/><stop offset="0.550" stop-color="#df7062"/><stop offset="0.600" stop-color="#e8886d"/><stop offset="0.650" stop-color="#edac88"/><stop offset="0.700" stop-color="#eecfa8"/><stop offset="0.750" stop-color="#e9e3c6"/><stop offset="0.800" stop-color="#cfe6e1"/><stop offset="0.850" stop-color="#a0cbe4"/><stop offset="0.900" stop-color="#7cacda"/><stop offset="0.950" stop-color="#6799d4"/><stop offset="1.000" stop-color="#6294d2"/></linearGradient><linearGradient id="sg43" gradientUnits="userSpaceOnUse" spreadMethod="repeat" x1="323.7" y1="175.4" x2="326.61" y2="176.47"><stop offset="0.000" stop-color="#588ace"/><stop offset="0.050" stop-color="#5e90d1"/><stop offset="0.100" stop-color="#70a2d7"/><stop offset="0.150" stop-color="#97c3e1"/><stop offset="0.200" stop-color="#cae4e2"/><stop offset="0.250" stop-color="#e9e3c6"/><stop offset="0.300" stop-color="#efcda5"/><stop offset="0.350" stop-color="#eba382"/><stop offset="0.400" stop-color="#e47c67"/><stop offset="0.450" stop-color="#da615b"/><stop offset="0.500" stop-color="#d65857"/><stop offset="0.550" stop-color="#da615b"/><stop offset="0.600" stop-color="#e47c67"/><stop offset="0.650" stop-color="#eba382"/><stop offset="0.700" stop-color="#efcda5"/><stop offset="0.750" stop-color="#e9e3c6"/><stop offset="0.800" stop-color="#cae4e2"/><stop offset="0.850" stop-color="#97c3e1"/><stop offset="0.900" stop-color="#70a2d7"/><stop offset="0.950" stop-color="#5e90d1"/><stop offset="1.000" stop-color="#588ace"/></linearGradient><linearGradient id="sg44" gradientUnits="userSpaceOnUse" spreadMethod="repeat" x1="323.7" y1="175.4" x2="326.61" y2="176.47"><stop offset="0.000" stop-color="#4377c7"/><stop offset="0.050" stop-color="#4a7ec9"/><stop offset="0.100" stop-color="#5e91d1"/><stop offset="0.150" stop-color="#86b4dd"/><stop offset="0.200" stop-color="#c0dfe3"/><stop offset="0.250" stop-color="#e9e3c6"/><stop offset="0.300" stop-color="#f0c9a0"/><stop offset="0.350" stop-color="#e99275"/><stop offset="0.400" stop-color="#da625c"/><stop offset="0.450" stop-color="#ce464f"/><stop offset="0.500" stop-color="#c8404d"/><stop offset="0.550" stop-color="#ce464f"/><stop offset="0.600" stop-color="#da625c"/><stop offset="0.650" stop-color="#e99275"/><stop offset="0.700" stop-color="#f0c9a0"/><stop offset="0.750" stop-color="#e9e3c6"/><stop offset="0.800" stop-color="#c0dfe3"/><stop offset="0.850" stop-color="#86b4dd"/><stop offset="0.900" stop-color="#5e91d1"/><stop offset="0.950" stop-color="#4a7ec9"/><stop offset="1.000" stop-color="#4377c7"/></linearGradient><linearGradient id="sg45" gradientUnits="userSpaceOnUse" spreadMethod="repeat" x1="323.7" y1="175.4" x2="326.61" y2="176.47"><stop offset="0.000" stop-color="#376cc3"/><stop offset="0.050" stop-color="#3a6fc4"/><stop offset="0.100" stop-color="#4e81cb"/><stop offset="0.150" stop-color="#75a6d8"/><stop offset="0.200" stop-color="#b7dae4"/><stop offset="0.250" stop-color="#e9e3c6"/><stop offset="0.300" stop-color="#efc299"/><stop offset="0.350" stop-color="#e68169"/><stop offset="0.400" stop-color="#d04950"/><stop offset="0.450" stop-color="#bf3749"/><stop offset="0.500" stop-color="#ba3247"/><stop offset="0.550" stop-color="#bf3749"/><stop offset="0.600" stop-color="#d04950"/><stop offset="0.650" stop-color="#e68169"/><stop offset="0.700" stop-color="#efc299"/><stop offset="0.750" stop-color="#e9e3c6"/><stop offset="0.800" stop-color="#b7dae4"/><stop offset="0.850" stop-color="#75a6d8"/><stop offset="0.900" stop-color="#4e81cb"/><stop offset="0.950" stop-color="#3a6fc4"/><stop offset="1.000" stop-color="#376cc3"/></linearGradient><linearGradient id="cbg" x1="0" y1="0" x2="0" y2="1"><stop offset="0.0000" stop-color="#2c5eb0"/><stop offset="0.0167" stop-color="#2c5fb1"/><stop offset="0.0333" stop-color="#2c5fb1"/><stop offset="0.0500" stop-color="#2c5fb1"/><stop offset="0.0667" stop-color="#2d5fb1"/><stop offset="0.0833" stop-color="#2d5fb1"/><stop offset="0.1000" stop-color="#2d5fb1"/><stop offset="0.1167" stop-color="#2d60b2"/><stop offset="0.1333" stop-color="#2d60b2"/><stop offset="0.1500" stop-color="#2d60b2"/><stop offset="0.1667" stop-color="#2d60b2"/><stop offset="0.1833" stop-color="#2d60b2"/><stop offset="0.2000" stop-color="#2d60b2"/><stop offset="0.2167" stop-color="#2d61b3"/><stop offset="0.2333" stop-color="#2d61b3"/><stop offset="0.2500" stop-color="#2d61b3"/><stop offset="0.2667" stop-color="#2e61b3"/><stop offset="0.2833" stop-color="#2e61b3"/><stop offset="0.3000" stop-color="#2e61b3"/><stop offset="0.3167" stop-color="#2e62b4"/><stop offset="0.3333" stop-color="#2e62b4"/><stop offset="0.3500" stop-color="#2e62b4"/><stop offset="0.3667" stop-color="#3366b8"/><stop offset="0.3833" stop-color="#3b6dbd"/><stop offset="0.4000" stop-color="#4e80c7"/><stop offset="0.4167" stop-color="#6496d2"/><stop offset="0.4333" stop-color="#80afdb"/><stop offset="0.4500" stop-color="#9fcae4"/><stop offset="0.4667" stop-color="#c0dfe3"/><stop offset="0.4833" stop-color="#dbe8d9"/><stop offset="0.5000" stop-color="#e9e3c6"/><stop offset="0.5167" stop-color="#efcda5"/><stop offset="0.5333" stop-color="#eb9f7e"/><stop offset="0.5500" stop-color="#dc675e"/><stop offset="0.5667" stop-color="#c13a4b"/><stop offset="0.5833" stop-color="#a22643"/><stop offset="0.6000" stop-color="#8f2240"/><stop offset="0.6167" stop-color="#8f2240"/><stop offset="0.6333" stop-color="#8f2240"/><stop offset="0.6500" stop-color="#8e2240"/><stop offset="0.6667" stop-color="#8e2240"/><stop offset="0.6833" stop-color="#8e2240"/><stop offset="0.7000" stop-color="#8e2240"/><stop offset="0.7167" stop-color="#8e2341"/><stop offset="0.7333" stop-color="#8d2341"/><stop offset="0.7500" stop-color="#8d2341"/><stop offset="0.7667" stop-color="#8d2341"/><stop offset="0.7833" stop-color="#8d2341"/><stop offset="0.8000" stop-color="#8d2341"/><stop offset="0.8167" stop-color="#8d2341"/><stop offset="0.8333" stop-color="#8c2341"/><stop offset="0.8500" stop-color="#8c2341"/><stop offset="0.8667" stop-color="#8c2341"/><stop offset="0.8833" stop-color="#8c2341"/><stop offset="0.9000" stop-color="#8c2341"/><stop offset="0.9167" stop-color="#8b2341"/><stop offset="0.9333" stop-color="#8b2442"/><stop offset="0.9500" stop-color="#8b2442"/><stop offset="0.9667" stop-color="#8b2442"/><stop offset="0.9833" stop-color="#8b2442"/><stop offset="1.0000" stop-color="#8a2442"/></linearGradient></defs><rect width="709" height="318" fill="#fff"/>
<rect x="47.7" y="35" width="315" height="100.5" fill="#e6e0c2"/>
<defs><linearGradient id="fda" gradientUnits="userSpaceOnUse" x1="47.7" y1="0" x2="362.7" y2="0"><stop offset="0.1617" stop-color="#fff" stop-opacity="0.350"/><stop offset="0.2017" stop-color="#fff" stop-opacity="0.800"/><stop offset="0.2713" stop-color="#fff" stop-opacity="1.000"/><stop offset="0.6333" stop-color="#fff" stop-opacity="1.000"/><stop offset="0.6604" stop-color="#fff" stop-opacity="0.808"/><stop offset="0.6875" stop-color="#fff" stop-opacity="0.631"/><stop offset="0.7146" stop-color="#fff" stop-opacity="0.471"/><stop offset="0.7417" stop-color="#fff" stop-opacity="0.330"/><stop offset="0.7688" stop-color="#fff" stop-opacity="0.208"/><stop offset="0.7958" stop-color="#fff" stop-opacity="0.109"/><stop offset="0.8229" stop-color="#fff" stop-opacity="0.036"/><stop offset="0.8500" stop-color="#fff" stop-opacity="0.000"/></linearGradient><filter id="bla" x="-5%" y="-20%" width="110%" height="140%"><feGaussianBlur stdDeviation="1.4"/></filter><mask id="mka" maskUnits="userSpaceOnUse" x="0" y="0" width="709" height="318"><g filter="url(#bla)" fill="url(#fda)"><path d="M98.62,85.5 L99.74,85.21 L100.86,84.92 L101.98,84.63 L103.09,84.34 L104.21,84.04 L105.33,83.75 L106.45,83.46 L107.56,83.17 L108.68,82.88 L109.8,82.59 L110.92,82.3 L112.03,82.01 L113.15,81.72 L114.27,81.42 L115.38,81.13 L116.5,80.84 L117.62,80.55 L118.74,80.26 L119.85,79.97 L120.97,79.68 L122.09,79.39 L123.21,79.1 L124.32,78.8 L125.44,78.51 L126.56,78.22 L127.68,77.93 L128.79,77.64 L129.91,77.35 L131.03,77.06 L132.14,76.77 L133.26,76.49 L134.38,76.35 L135.5,76.22 L136.61,76.09 L137.73,75.96 L138.85,75.83 L139.97,75.71 L141.08,75.58 L142.2,75.46 L143.25,75.34 L145.09,75.15 L146.94,74.95 L148.78,74.76 L150.63,74.58 L152.47,74.39 L154.31,74.04 L156.16,73.6 L158,73.16 L159.85,72.72 L161.69,72.29 L163.54,71.86 L165.38,71.44 L167.22,71.02 L169.07,70.6 L170.91,70.19 L172.76,69.79 L174.6,69.4 L176.44,69.01 L178.29,68.63 L180.13,68.27 L181.98,67.92 L183.82,67.58 L185.66,67.24 L187.51,66.9 L189.35,66.56 L191.2,66.21 L193.04,65.85 L194.89,65.49 L196.73,65.18 L198.57,64.85 L200.42,64.5 L202.26,64.14 L204.11,63.78 L205.95,63.44 L207.79,63.11 L209.64,62.82 L211.48,62.55 L213.33,62.29 L215.17,62.04 L217.01,61.8 L218.86,61.58 L220.7,61.4 L222.55,61.26 L224.39,61.17 L226.24,61.1 L228.08,61.03 L229.92,60.96 L231.77,60.92 L233.61,60.88 L235.46,60.86 L237.3,60.84 L239.14,60.84 L240.99,60.85 L242.83,60.86 L244.68,60.87 L246.52,60.89 L248.36,60.91 L250.21,60.95 L252.05,61 L253.9,61.07 L255.74,61.13 L257.59,61.2 L259.43,61.2 L261.27,61.2 L263.12,61.2 L264.96,61.2 L266.81,61.2 L268.65,61.2 L270.49,61.2 L272.34,61.2 L274.18,61.2 L276.03,61.2 L277.87,61.2 L279.71,61.2 L281.56,61.2 L283.4,61.2 L285.25,61.2 L287.09,61.2 L288.94,61.2 L290.78,61.2 L292.62,61.2 L294.47,61.2 L296.31,61.2 L298.16,61.2 L300,61.2 L301.84,61.2 L303.69,61.2 L305.53,61.2 L307.38,61.2 L309.22,61.2 L311.06,61.2 L312.91,61.2 L314.75,61.2 L316.6,61.2 L318.44,61.2 L320.29,61.2 L322.13,61.2 L323.97,61.2 L325.82,61.2 L327.66,61.2 L329.51,61.2 L331.35,61.2 L333.19,61.2 L335.04,61.2 L336.88,61.2 L338.73,61.2 L340.57,61.2 L342.41,61.2 L344.26,61.2 L346.1,61.2 L347.95,61.2 L349.79,61.2 L351.64,61.2 L353.48,61.2 L355.32,61.2 L357.17,61.2 L359.01,61.2 L360.86,61.2 L362.7,61.2 L362.7,67.8 L360.86,67.8 L359.01,67.8 L357.17,67.8 L355.32,67.8 L353.48,67.8 L351.64,67.8 L349.79,67.8 L347.95,67.8 L346.1,67.8 L344.26,67.8 L342.41,67.8 L340.57,67.8 L338.73,67.8 L336.88,67.8 L335.04,67.8 L333.19,67.8 L331.35,67.8 L329.51,67.8 L327.66,67.8 L325.82,67.8 L323.97,67.8 L322.13,67.8 L320.29,67.8 L318.44,67.8 L316.6,67.8 L314.75,67.8 L312.91,67.8 L311.06,67.8 L309.22,67.8 L307.38,67.8 L305.53,67.8 L303.69,67.8 L301.84,67.8 L300,67.8 L298.16,67.8 L296.31,67.8 L294.47,67.8 L292.62,67.8 L290.78,67.8 L288.94,67.8 L287.09,67.8 L285.25,67.8 L283.4,67.8 L281.56,67.8 L279.71,67.8 L277.87,67.8 L276.03,67.8 L274.18,67.8 L272.34,67.8 L270.49,67.8 L268.65,67.8 L266.81,67.8 L264.96,67.8 L263.12,67.8 L261.27,67.8 L259.43,67.8 L257.59,67.8 L255.74,67.87 L253.9,67.93 L252.05,68 L250.21,68.07 L248.36,68.16 L246.52,68.27 L244.68,68.38 L242.83,68.49 L240.99,68.62 L239.14,68.74 L237.3,68.87 L235.46,69.01 L233.61,69.16 L231.77,69.33 L229.92,69.5 L228.08,69.69 L226.24,69.9 L224.39,70.13 L222.55,70.38 L220.7,70.69 L218.86,71.03 L217.01,71.41 L215.17,71.82 L213.33,72.24 L211.48,72.66 L209.64,73.09 L207.79,73.55 L205.95,74.04 L204.11,74.55 L202.26,75.07 L200.42,75.59 L198.57,76.1 L196.73,76.6 L194.89,77.08 L193.04,77.47 L191.2,77.84 L189.35,78.21 L187.51,78.57 L185.66,78.92 L183.82,79.28 L181.98,79.64 L180.13,80.01 L178.29,80.39 L176.44,80.78 L174.6,81.19 L172.76,81.6 L170.91,82.02 L169.07,82.45 L167.22,82.88 L165.38,83.32 L163.54,83.76 L161.69,84.21 L159.85,84.66 L158,85.11 L156.16,85.57 L154.31,86.03 L152.47,86.59 L150.63,87.33 L148.78,88.07 L146.94,88.81 L145.09,89.56 L143.25,90.31 L142.2,90.74 L141.08,91.2 L139.97,91.66 L138.85,92.13 L137.73,92.59 L136.61,93.06 L135.5,93.52 L134.38,93.99 L133.26,94.46 L132.14,94.23 L131.03,93.94 L129.91,93.65 L128.79,93.36 L127.68,93.07 L126.56,92.78 L125.44,92.49 L124.32,92.2 L123.21,91.9 L122.09,91.61 L120.97,91.32 L119.85,91.03 L118.74,90.74 L117.62,90.45 L116.5,90.16 L115.38,89.87 L114.27,89.58 L113.15,89.28 L112.03,88.99 L110.92,88.7 L109.8,88.41 L108.68,88.12 L107.56,87.83 L106.45,87.54 L105.33,87.25 L104.21,86.96 L103.09,86.66 L101.98,86.37 L100.86,86.08 L99.74,85.79 L98.62,85.5Z"/><path d="M98.62,85.5 L99.74,85.21 L100.86,84.92 L101.98,84.63 L103.09,84.34 L104.21,84.04 L105.33,83.75 L106.45,83.46 L107.56,83.17 L108.68,82.88 L109.8,82.59 L110.92,82.3 L112.03,82.01 L113.15,81.72 L114.27,81.42 L115.38,81.13 L116.5,80.84 L117.62,80.55 L118.74,80.26 L119.85,79.97 L120.97,79.68 L122.09,79.39 L123.21,79.1 L124.32,78.8 L125.44,78.51 L126.56,78.22 L127.68,77.93 L128.79,77.64 L129.91,77.35 L131.03,77.06 L132.14,76.77 L133.26,76.54 L134.38,77.01 L135.5,77.48 L136.61,77.94 L137.73,78.41 L138.85,78.87 L139.97,79.34 L141.08,79.8 L142.2,80.26 L143.25,80.69 L145.09,81.44 L146.94,82.19 L148.78,82.93 L150.63,83.67 L152.47,84.41 L154.31,84.97 L156.16,85.43 L158,85.89 L159.85,86.34 L161.69,86.79 L163.54,87.24 L165.38,87.68 L167.22,88.12 L169.07,88.55 L170.91,88.98 L172.76,89.4 L174.6,89.81 L176.44,90.22 L178.29,90.61 L180.13,90.99 L181.98,91.36 L183.82,91.72 L185.66,92.08 L187.51,92.43 L189.35,92.79 L191.2,93.16 L193.04,93.53 L194.89,93.92 L196.73,94.4 L198.57,94.9 L200.42,95.41 L202.26,95.93 L204.11,96.45 L205.95,96.96 L207.79,97.45 L209.64,97.91 L211.48,98.34 L213.33,98.76 L215.17,99.18 L217.01,99.59 L218.86,99.97 L220.7,100.31 L222.55,100.62 L224.39,100.87 L226.24,101.1 L228.08,101.31 L229.92,101.5 L231.77,101.67 L233.61,101.84 L235.46,101.99 L237.3,102.13 L239.14,102.26 L240.99,102.38 L242.83,102.51 L244.68,102.62 L246.52,102.73 L248.36,102.84 L250.21,102.93 L252.05,103 L253.9,103.07 L255.74,103.13 L257.59,103.2 L259.43,103.2 L261.27,103.2 L263.12,103.2 L264.96,103.2 L266.81,103.2 L268.65,103.2 L270.49,103.2 L272.34,103.2 L274.18,103.2 L276.03,103.2 L277.87,103.2 L279.71,103.2 L281.56,103.2 L283.4,103.2 L285.25,103.2 L287.09,103.2 L288.94,103.2 L290.78,103.2 L292.62,103.2 L294.47,103.2 L296.31,103.2 L298.16,103.2 L300,103.2 L301.84,103.2 L303.69,103.2 L305.53,103.2 L307.38,103.2 L309.22,103.2 L311.06,103.2 L312.91,103.2 L314.75,103.2 L316.6,103.2 L318.44,103.2 L320.29,103.2 L322.13,103.2 L323.97,103.2 L325.82,103.2 L327.66,103.2 L329.51,103.2 L331.35,103.2 L333.19,103.2 L335.04,103.2 L336.88,103.2 L338.73,103.2 L340.57,103.2 L342.41,103.2 L344.26,103.2 L346.1,103.2 L347.95,103.2 L349.79,103.2 L351.64,103.2 L353.48,103.2 L355.32,103.2 L357.17,103.2 L359.01,103.2 L360.86,103.2 L362.7,103.2 L362.7,109.8 L360.86,109.8 L359.01,109.8 L357.17,109.8 L355.32,109.8 L353.48,109.8 L351.64,109.8 L349.79,109.8 L347.95,109.8 L346.1,109.8 L344.26,109.8 L342.41,109.8 L340.57,109.8 L338.73,109.8 L336.88,109.8 L335.04,109.8 L333.19,109.8 L331.35,109.8 L329.51,109.8 L327.66,109.8 L325.82,109.8 L323.97,109.8 L322.13,109.8 L320.29,109.8 L318.44,109.8 L316.6,109.8 L314.75,109.8 L312.91,109.8 L311.06,109.8 L309.22,109.8 L307.38,109.8 L305.53,109.8 L303.69,109.8 L301.84,109.8 L300,109.8 L298.16,109.8 L296.31,109.8 L294.47,109.8 L292.62,109.8 L290.78,109.8 L288.94,109.8 L287.09,109.8 L285.25,109.8 L283.4,109.8 L281.56,109.8 L279.71,109.8 L277.87,109.8 L276.03,109.8 L274.18,109.8 L272.34,109.8 L270.49,109.8 L268.65,109.8 L266.81,109.8 L264.96,109.8 L263.12,109.8 L261.27,109.8 L259.43,109.8 L257.59,109.8 L255.74,109.87 L253.9,109.93 L252.05,110 L250.21,110.05 L248.36,110.09 L246.52,110.11 L244.68,110.13 L242.83,110.14 L240.99,110.15 L239.14,110.16 L237.3,110.16 L235.46,110.14 L233.61,110.12 L231.77,110.08 L229.92,110.04 L228.08,109.97 L226.24,109.9 L224.39,109.83 L222.55,109.74 L220.7,109.6 L218.86,109.42 L217.01,109.2 L215.17,108.96 L213.33,108.71 L211.48,108.45 L209.64,108.18 L207.79,107.89 L205.95,107.56 L204.11,107.22 L202.26,106.86 L200.42,106.5 L198.57,106.15 L196.73,105.82 L194.89,105.51 L193.04,105.15 L191.2,104.79 L189.35,104.44 L187.51,104.1 L185.66,103.76 L183.82,103.42 L181.98,103.08 L180.13,102.73 L178.29,102.37 L176.44,101.99 L174.6,101.6 L172.76,101.21 L170.91,100.81 L169.07,100.4 L167.22,99.98 L165.38,99.56 L163.54,99.14 L161.69,98.71 L159.85,98.28 L158,97.84 L156.16,97.4 L154.31,96.96 L152.47,96.61 L150.63,96.42 L148.78,96.24 L146.94,96.05 L145.09,95.85 L143.25,95.66 L142.2,95.54 L141.08,95.42 L139.97,95.29 L138.85,95.17 L137.73,95.04 L136.61,94.91 L135.5,94.78 L134.38,94.65 L133.26,94.51 L132.14,94.23 L131.03,93.94 L129.91,93.65 L128.79,93.36 L127.68,93.07 L126.56,92.78 L125.44,92.49 L124.32,92.2 L123.21,91.9 L122.09,91.61 L120.97,91.32 L119.85,91.03 L118.74,90.74 L117.62,90.45 L116.5,90.16 L115.38,89.87 L114.27,89.58 L113.15,89.28 L112.03,88.99 L110.92,88.7 L109.8,88.41 L108.68,88.12 L107.56,87.83 L106.45,87.54 L105.33,87.25 L104.21,86.96 L103.09,86.66 L101.98,86.37 L100.86,86.08 L99.74,85.79 L98.62,85.5Z"/></g></mask></defs>
<rect x="47.7" y="35" width="315" height="100.5" fill="url(#chk)" mask="url(#mka)"/>
<path d="M80.78,85.5 L133.17,85.5 L134.61,85.11 L136.06,84.72 L137.5,84.34 L138.94,83.95 L140.39,83.57 L141.83,83.2 L143.28,82.82 L144.72,82.45 L146.16,82.08 L147.61,81.71 L149.05,81.35 L150.49,80.98 L151.94,80.62 L153.38,80.27 L154.82,79.91 L156.27,79.56 L157.71,79.21 L159.15,78.86 L160.6,78.51 L162.04,78.17 L163.49,77.82 L164.93,77.48 L166.37,77.15 L167.82,76.81 L169.26,76.48 L170.7,76.15 L172.15,75.83 L173.59,75.51 L175.03,75.2 L176.48,74.89 L177.92,74.59 L179.36,74.3 L180.81,74.01 L182.25,73.73 L183.7,73.45 L185.14,73.18 L186.58,72.91 L188.03,72.63 L189.47,72.36 L190.91,72.08 L192.36,71.8 L193.8,71.51 L195.24,71.21 L196.69,70.9 L198.13,70.58 L199.57,70.24 L201.02,69.9 L202.46,69.55 L203.91,69.21 L205.35,68.87 L206.79,68.55 L208.24,68.24 L209.68,67.95 L211.12,67.68 L212.57,67.41 L214.01,67.14 L215.45,66.88 L216.9,66.62 L218.34,66.39 L219.79,66.17 L221.23,65.97 L222.67,65.81 L224.12,65.67 L225.56,65.55 L227,65.44 L228.45,65.33 L229.89,65.24 L231.33,65.15 L232.78,65.06 L234.22,64.99 L235.66,64.92 L237.11,64.86 L238.55,64.81 L240,64.76 L241.44,64.72 L242.88,64.67 L244.33,64.63 L245.77,64.59 L247.21,64.56 L248.66,64.53 L250.1,64.51 L251.54,64.5 L252.99,64.5 L254.43,64.5 L255.87,64.5 L257.32,64.5 L258.76,64.5 L260.21,64.5 L261.65,64.5 L263.09,64.5 L264.54,64.5 L265.98,64.5 L267.42,64.5 L268.87,64.5 L270.31,64.5 L271.75,64.5 L273.2,64.5 L274.64,64.5 L276.08,64.5 L277.53,64.5 L278.97,64.5 L280.42,64.5 L281.86,64.5 L283.3,64.5 L284.75,64.5 L286.19,64.5 L287.63,64.5 L289.08,64.5 L290.52,64.5 L291.96,64.5 L293.41,64.5 L294.85,64.5 L296.3,64.5 L297.74,64.5 L299.18,64.5 L300.63,64.5 L302.07,64.5 L303.51,64.5 L304.96,64.5 L306.4,64.5 L307.84,64.5 L309.29,64.5 L310.73,64.5 L312.17,64.5 L313.62,64.5 L315.06,64.5 L316.51,64.5 L317.95,64.5 L319.39,64.5 L320.84,64.5 L322.28,64.5 L323.72,64.5 L325.17,64.5 L326.61,64.5 L328.05,64.5 L329.5,64.5 L330.94,64.5 L332.38,64.5 L333.83,64.5 L335.27,64.5 L336.72,64.5 L338.16,64.5 L339.6,64.5 L341.05,64.5 L342.49,64.5 L343.93,64.5 L345.38,64.5 L346.82,64.5 L348.26,64.5 L349.71,64.5 L351.15,64.5 L352.59,64.5 L354.04,64.5 L355.48,64.5 L356.93,64.5 L358.37,64.5 L359.81,64.5 L361.26,64.5 L362.7,64.5" fill="none" stroke="#fff" stroke-opacity="0.95" stroke-width="1.0" stroke-dasharray="2.1 1"/>
<path d="M80.78,85.5 L133.17,85.5 L134.61,85.89 L136.06,86.28 L137.5,86.66 L138.94,87.05 L140.39,87.43 L141.83,87.8 L143.28,88.18 L144.72,88.55 L146.16,88.92 L147.61,89.29 L149.05,89.65 L150.49,90.02 L151.94,90.38 L153.38,90.73 L154.82,91.09 L156.27,91.44 L157.71,91.79 L159.15,92.14 L160.6,92.49 L162.04,92.83 L163.49,93.18 L164.93,93.52 L166.37,93.85 L167.82,94.19 L169.26,94.52 L170.7,94.85 L172.15,95.17 L173.59,95.49 L175.03,95.8 L176.48,96.11 L177.92,96.41 L179.36,96.7 L180.81,96.99 L182.25,97.27 L183.7,97.55 L185.14,97.82 L186.58,98.09 L188.03,98.37 L189.47,98.64 L190.91,98.92 L192.36,99.2 L193.8,99.49 L195.24,99.79 L196.69,100.1 L198.13,100.42 L199.57,100.76 L201.02,101.1 L202.46,101.45 L203.91,101.79 L205.35,102.13 L206.79,102.45 L208.24,102.76 L209.68,103.05 L211.12,103.32 L212.57,103.59 L214.01,103.86 L215.45,104.12 L216.9,104.38 L218.34,104.61 L219.79,104.83 L221.23,105.03 L222.67,105.19 L224.12,105.33 L225.56,105.45 L227,105.56 L228.45,105.67 L229.89,105.76 L231.33,105.85 L232.78,105.94 L234.22,106.01 L235.66,106.08 L237.11,106.14 L238.55,106.19 L240,106.24 L241.44,106.28 L242.88,106.33 L244.33,106.37 L245.77,106.41 L247.21,106.44 L248.66,106.47 L250.1,106.49 L251.54,106.5 L252.99,106.5 L254.43,106.5 L255.87,106.5 L257.32,106.5 L258.76,106.5 L260.21,106.5 L261.65,106.5 L263.09,106.5 L264.54,106.5 L265.98,106.5 L267.42,106.5 L268.87,106.5 L270.31,106.5 L271.75,106.5 L273.2,106.5 L274.64,106.5 L276.08,106.5 L277.53,106.5 L278.97,106.5 L280.42,106.5 L281.86,106.5 L283.3,106.5 L284.75,106.5 L286.19,106.5 L287.63,106.5 L289.08,106.5 L290.52,106.5 L291.96,106.5 L293.41,106.5 L294.85,106.5 L296.3,106.5 L297.74,106.5 L299.18,106.5 L300.63,106.5 L302.07,106.5 L303.51,106.5 L304.96,106.5 L306.4,106.5 L307.84,106.5 L309.29,106.5 L310.73,106.5 L312.17,106.5 L313.62,106.5 L315.06,106.5 L316.51,106.5 L317.95,106.5 L319.39,106.5 L320.84,106.5 L322.28,106.5 L323.72,106.5 L325.17,106.5 L326.61,106.5 L328.05,106.5 L329.5,106.5 L330.94,106.5 L332.38,106.5 L333.83,106.5 L335.27,106.5 L336.72,106.5 L338.16,106.5 L339.6,106.5 L341.05,106.5 L342.49,106.5 L343.93,106.5 L345.38,106.5 L346.82,106.5 L348.26,106.5 L349.71,106.5 L351.15,106.5 L352.59,106.5 L354.04,106.5 L355.48,106.5 L356.93,106.5 L358.37,106.5 L359.81,106.5 L361.26,106.5 L362.7,106.5" fill="none" stroke="#fff" stroke-opacity="0.95" stroke-width="1.0" stroke-dasharray="2.1 1"/>
<line x1="210.5" y1="28.2" x2="210.5" y2="142" stroke="#1a1a1a" stroke-width="1.3" stroke-dasharray="1.5 1"/>
<text x="200.5" y="47.8" font-size="14" font-style="italic" stroke-width="0.12" fill="#1a1a1a" stroke="#1a1a1a">t<tspan font-size="6.5" dy="3.2" font-style="normal">1</tspan></text>
<line x1="252.4" y1="28.2" x2="252.4" y2="142" stroke="#1a1a1a" stroke-width="1.3" stroke-dasharray="1.5 1"/>
<text x="242.4" y="47.8" font-size="14" font-style="italic" stroke-width="0.12" fill="#1a1a1a" stroke="#1a1a1a">t<tspan font-size="6.5" dy="3.2" font-style="normal">2</tspan></text>
<rect x="194.5" y="60" width="16" height="18.2" fill="none" stroke="#8a8a8a" stroke-width="1.1"/>
<rect x="257.4" y="55" width="16" height="17.5" fill="none" stroke="#8a8a8a" stroke-width="1.1"/>
<rect x="40.8" y="28.2" width="328.5" height="113.8" fill="none" stroke="#1e1e1e" stroke-width="1.3"/>
<line x1="47.7" y1="28.2" x2="47.7" y2="30.7" stroke="#1e1e1e" stroke-width="1" />
<line x1="47.7" y1="142" x2="47.7" y2="139.5" stroke="#1e1e1e" stroke-width="1" />
<text x="47.7" y="25" font-size="14.0" text-anchor="middle" fill="#1a1a1a" stroke="#1a1a1a" stroke-width="0.35"  >0</text>
<line x1="152.7" y1="28.2" x2="152.7" y2="30.7" stroke="#1e1e1e" stroke-width="1" />
<line x1="152.7" y1="142" x2="152.7" y2="139.5" stroke="#1e1e1e" stroke-width="1" />
<text x="152.7" y="25" font-size="14.0" text-anchor="middle" fill="#1a1a1a" stroke="#1a1a1a" stroke-width="0.35"  >10</text>
<line x1="257.7" y1="28.2" x2="257.7" y2="30.7" stroke="#1e1e1e" stroke-width="1" />
<line x1="257.7" y1="142" x2="257.7" y2="139.5" stroke="#1e1e1e" stroke-width="1" />
<text x="257.7" y="25" font-size="14.0" text-anchor="middle" fill="#1a1a1a" stroke="#1a1a1a" stroke-width="0.35"  >20</text>
<line x1="362.7" y1="28.2" x2="362.7" y2="30.7" stroke="#1e1e1e" stroke-width="1" />
<line x1="362.7" y1="142" x2="362.7" y2="139.5" stroke="#1e1e1e" stroke-width="1" />
<text x="362.7" y="25" font-size="14.0" text-anchor="middle" fill="#1a1a1a" stroke="#1a1a1a" stroke-width="0.35"  >30</text>
<line x1="40.8" y1="35.05" x2="43.3" y2="35.05" stroke="#1e1e1e" stroke-width="1" />
<line x1="369.3" y1="35.05" x2="366.8" y2="35.05" stroke="#1e1e1e" stroke-width="1" />
<text x="40" y="39.65" font-size="14.0" text-anchor="end" fill="#1a1a1a" stroke="#1a1a1a" stroke-width="0.35"  >10</text>
<line x1="40.8" y1="60.15" x2="43.3" y2="60.15" stroke="#1e1e1e" stroke-width="1" />
<line x1="369.3" y1="60.15" x2="366.8" y2="60.15" stroke="#1e1e1e" stroke-width="1" />
<text x="40" y="64.75" font-size="14.0" text-anchor="end" fill="#1a1a1a" stroke="#1a1a1a" stroke-width="0.35"  >5</text>
<line x1="40.8" y1="85.25" x2="43.3" y2="85.25" stroke="#1e1e1e" stroke-width="1" />
<line x1="369.3" y1="85.25" x2="366.8" y2="85.25" stroke="#1e1e1e" stroke-width="1" />
<text x="40" y="89.85" font-size="14.0" text-anchor="end" fill="#1a1a1a" stroke="#1a1a1a" stroke-width="0.35"  >0</text>
<line x1="40.8" y1="110.35" x2="43.3" y2="110.35" stroke="#1e1e1e" stroke-width="1" />
<line x1="369.3" y1="110.35" x2="366.8" y2="110.35" stroke="#1e1e1e" stroke-width="1" />
<text x="40" y="114.95" font-size="14.0" text-anchor="end" fill="#1a1a1a" stroke="#1a1a1a" stroke-width="0.35"  >-5</text>
<line x1="40.8" y1="135.45" x2="43.3" y2="135.45" stroke="#1e1e1e" stroke-width="1" />
<line x1="369.3" y1="135.45" x2="366.8" y2="135.45" stroke="#1e1e1e" stroke-width="1" />
<text x="40" y="140.05" font-size="14.0" text-anchor="end" fill="#1a1a1a" stroke="#1a1a1a" stroke-width="0.35"  >-10</text>
<text x="205.55" y="11.2" font-size="14.0" text-anchor="middle" fill="#1a1a1a" stroke="#1a1a1a" stroke-width="0.35"  ><tspan font-style="italic">t</tspan> (ns)</text>
<rect x="383" y="35" width="315" height="100.5" fill="#e6e0c2"/>
<defs><linearGradient id="fdb" gradientUnits="userSpaceOnUse" x1="383" y1="0" x2="698" y2="0"><stop offset="0.1617" stop-color="#fff" stop-opacity="0.350"/><stop offset="0.2017" stop-color="#fff" stop-opacity="0.800"/><stop offset="0.2633" stop-color="#fff" stop-opacity="1.000"/><stop offset="0.6267" stop-color="#fff" stop-opacity="1.000"/><stop offset="0.6508" stop-color="#fff" stop-opacity="0.808"/><stop offset="0.6750" stop-color="#fff" stop-opacity="0.631"/><stop offset="0.6992" stop-color="#fff" stop-opacity="0.471"/><stop offset="0.7233" stop-color="#fff" stop-opacity="0.330"/><stop offset="0.7475" stop-color="#fff" stop-opacity="0.208"/><stop offset="0.7717" stop-color="#fff" stop-opacity="0.109"/><stop offset="0.7958" stop-color="#fff" stop-opacity="0.036"/><stop offset="0.8200" stop-color="#fff" stop-opacity="0.000"/></linearGradient><filter id="blb" x="-5%" y="-20%" width="110%" height="140%"><feGaussianBlur stdDeviation="1.4"/></filter><mask id="mkb" maskUnits="userSpaceOnUse" x="0" y="0" width="709" height="318"><g filter="url(#blb)" fill="url(#fdb)"><path d="M433.93,85.5 L435.04,85.19 L436.16,84.87 L437.28,84.56 L438.39,84.24 L439.51,83.93 L440.63,83.62 L441.75,83.3 L442.86,82.99 L443.98,82.67 L445.1,82.36 L446.22,82.05 L447.33,81.73 L448.45,81.42 L449.57,81.1 L450.68,80.79 L451.8,80.48 L452.92,80.16 L454.04,79.85 L455.15,79.53 L456.27,79.22 L457.39,78.91 L458.51,78.59 L459.62,78.28 L460.74,77.96 L461.86,77.65 L462.98,77.34 L464.09,77.02 L465.21,76.71 L466.33,76.47 L467.44,76.38 L468.56,76.29 L469.68,76.2 L470.8,76.11 L471.91,76.02 L473.03,75.93 L474.15,75.84 L475.27,75.75 L476.38,75.67 L477.5,75.58 L478.55,75.5 L480.39,75.35 L482.24,75.21 L484.08,75.06 L485.93,74.92 L487.77,74.5 L489.61,74.09 L491.46,73.68 L493.3,73.27 L495.15,72.86 L496.99,72.45 L498.84,72.03 L500.68,71.62 L502.52,71.21 L504.37,70.8 L506.21,70.39 L508.06,69.99 L509.9,69.6 L511.74,69.21 L513.59,68.84 L515.43,68.47 L517.28,68.12 L519.12,67.77 L520.96,67.42 L522.81,67.07 L524.65,66.72 L526.5,66.37 L528.34,66.01 L530.19,65.64 L532.03,65.33 L533.87,64.98 L535.72,64.6 L537.56,64.22 L539.41,63.84 L541.25,63.49 L543.09,63.17 L544.94,62.92 L546.78,62.74 L548.63,62.59 L550.47,62.46 L552.31,62.34 L554.16,62.26 L556,62.22 L557.85,62.24 L559.69,62.3 L561.54,62.36 L563.38,62.38 L565.22,62.42 L567.07,62.45 L568.91,62.49 L570.76,62.54 L572.6,62.6 L574.44,62.73 L576.29,62.89 L578.13,63.08 L579.98,63.3 L581.82,63.54 L583.66,63.77 L585.51,64 L587.35,64.22 L589.2,64.43 L591.04,64.63 L592.89,64.84 L594.73,65.01 L596.57,65.18 L598.42,65.36 L600.26,65.53 L602.11,65.71 L603.95,65.88 L605.79,66.06 L607.64,66.24 L609.48,66.42 L611.33,66.61 L613.17,66.8 L615.01,66.99 L616.86,67.19 L618.7,67.39 L620.55,67.59 L622.39,67.79 L624.24,67.98 L626.08,68.18 L627.92,68.37 L629.77,68.55 L631.61,68.73 L633.46,68.91 L635.3,69.07 L637.14,69.23 L638.99,69.39 L640.83,69.55 L642.68,69.7 L644.52,69.85 L646.36,70 L648.21,70.15 L650.05,70.29 L651.9,70.43 L653.74,70.57 L655.59,70.7 L657.43,70.83 L659.27,70.96 L661.12,71.08 L662.96,71.21 L664.81,71.33 L666.65,71.46 L668.49,71.58 L670.34,71.7 L672.18,71.81 L674.03,71.93 L675.87,72.05 L677.71,72.16 L679.56,72.27 L681.4,72.38 L683.25,72.49 L685.09,72.59 L686.94,72.69 L688.78,72.8 L690.62,72.89 L692.47,72.99 L694.31,73.08 L696.16,73.18 L698,73.25 L698,80.45 L696.16,80.38 L694.31,80.28 L692.47,80.19 L690.62,80.09 L688.78,80 L686.94,79.89 L685.09,79.79 L683.25,79.69 L681.4,79.58 L679.56,79.47 L677.71,79.36 L675.87,79.25 L674.03,79.13 L672.18,79.01 L670.34,78.9 L668.49,78.78 L666.65,78.66 L664.81,78.53 L662.96,78.41 L661.12,78.28 L659.27,78.16 L657.43,78.03 L655.59,77.9 L653.74,77.77 L651.9,77.63 L650.05,77.49 L648.21,77.35 L646.36,77.2 L644.52,77.05 L642.68,76.9 L640.83,76.75 L638.99,76.59 L637.14,76.43 L635.3,76.27 L633.46,76.11 L631.61,75.93 L629.77,75.75 L627.92,75.57 L626.08,75.38 L624.24,75.18 L622.39,74.99 L620.55,74.79 L618.7,74.59 L616.86,74.39 L615.01,74.19 L613.17,74 L611.33,73.81 L609.48,73.62 L607.64,73.44 L605.79,73.26 L603.95,73.08 L602.11,72.91 L600.26,72.73 L598.42,72.56 L596.57,72.38 L594.73,72.21 L592.89,72.05 L591.04,71.93 L589.2,71.82 L587.35,71.71 L585.51,71.59 L583.66,71.45 L581.82,71.3 L579.98,71.16 L578.13,71.04 L576.29,70.94 L574.44,70.87 L572.6,70.84 L570.76,70.86 L568.91,70.91 L567.07,70.97 L565.22,71.03 L563.38,71.09 L561.54,71.15 L559.69,71.26 L557.85,71.37 L556,71.51 L554.16,71.71 L552.31,71.96 L550.47,72.24 L548.63,72.54 L546.78,72.84 L544.94,73.19 L543.09,73.61 L541.25,74.09 L539.41,74.6 L537.56,75.14 L535.72,75.69 L533.87,76.23 L532.03,76.75 L530.19,77.23 L528.34,77.62 L526.5,78 L524.65,78.37 L522.81,78.73 L520.96,79.1 L519.12,79.46 L517.28,79.83 L515.43,80.21 L513.59,80.59 L511.74,80.98 L509.9,81.38 L508.06,81.79 L506.21,82.21 L504.37,82.63 L502.52,83.06 L500.68,83.49 L498.84,83.92 L496.99,84.35 L495.15,84.78 L493.3,85.21 L491.46,85.63 L489.61,86.06 L487.77,86.49 L485.93,86.92 L484.08,87.61 L482.24,88.31 L480.39,89.01 L478.55,89.71 L477.5,90.1 L476.38,90.53 L475.27,90.95 L474.15,91.38 L473.03,91.8 L471.91,92.23 L470.8,92.65 L469.68,93.08 L468.56,93.5 L467.44,93.93 L466.33,94.36 L465.21,94.29 L464.09,93.98 L462.98,93.66 L461.86,93.35 L460.74,93.04 L459.62,92.72 L458.51,92.41 L457.39,92.09 L456.27,91.78 L455.15,91.47 L454.04,91.15 L452.92,90.84 L451.8,90.52 L450.68,90.21 L449.57,89.9 L448.45,89.58 L447.33,89.27 L446.22,88.95 L445.1,88.64 L443.98,88.33 L442.86,88.01 L441.75,87.7 L440.63,87.38 L439.51,87.07 L438.39,86.76 L437.28,86.44 L436.16,86.13 L435.04,85.81 L433.93,85.5Z"/><path d="M433.93,85.5 L435.04,85.19 L436.16,84.87 L437.28,84.56 L438.39,84.24 L439.51,83.93 L440.63,83.62 L441.75,83.3 L442.86,82.99 L443.98,82.67 L445.1,82.36 L446.22,82.05 L447.33,81.73 L448.45,81.42 L449.57,81.1 L450.68,80.79 L451.8,80.48 L452.92,80.16 L454.04,79.85 L455.15,79.53 L456.27,79.22 L457.39,78.91 L458.51,78.59 L459.62,78.28 L460.74,77.96 L461.86,77.65 L462.98,77.34 L464.09,77.02 L465.21,76.71 L466.33,76.64 L467.44,77.07 L468.56,77.5 L469.68,77.92 L470.8,78.35 L471.91,78.77 L473.03,79.2 L474.15,79.62 L475.27,80.05 L476.38,80.47 L477.5,80.9 L478.55,81.29 L480.39,81.99 L482.24,82.69 L484.08,83.39 L485.93,84.08 L487.77,84.51 L489.61,84.94 L491.46,85.37 L493.3,85.79 L495.15,86.22 L496.99,86.65 L498.84,87.08 L500.68,87.51 L502.52,87.94 L504.37,88.37 L506.21,88.79 L508.06,89.21 L509.9,89.62 L511.74,90.02 L513.59,90.41 L515.43,90.79 L517.28,91.17 L519.12,91.54 L520.96,91.9 L522.81,92.27 L524.65,92.63 L526.5,93 L528.34,93.38 L530.19,93.77 L532.03,94.25 L533.87,94.77 L535.72,95.31 L537.56,95.86 L539.41,96.4 L541.25,96.91 L543.09,97.39 L544.94,97.81 L546.78,98.16 L548.63,98.46 L550.47,98.76 L552.31,99.04 L554.16,99.29 L556,99.49 L557.85,99.63 L559.69,99.74 L561.54,99.85 L563.38,99.91 L565.22,99.97 L567.07,100.03 L568.91,100.09 L570.76,100.14 L572.6,100.16 L574.44,100.13 L576.29,100.06 L578.13,99.96 L579.98,99.84 L581.82,99.7 L583.66,99.55 L585.51,99.41 L587.35,99.29 L589.2,99.18 L591.04,99.07 L592.89,98.95 L594.73,98.79 L596.57,98.62 L598.42,98.44 L600.26,98.27 L602.11,98.09 L603.95,97.92 L605.79,97.74 L607.64,97.56 L609.48,97.38 L611.33,97.19 L613.17,97 L615.01,96.81 L616.86,96.61 L618.7,96.41 L620.55,96.21 L622.39,96.01 L624.24,95.82 L626.08,95.62 L627.92,95.43 L629.77,95.25 L631.61,95.07 L633.46,94.89 L635.3,94.73 L637.14,94.57 L638.99,94.41 L640.83,94.25 L642.68,94.1 L644.52,93.95 L646.36,93.8 L648.21,93.65 L650.05,93.51 L651.9,93.37 L653.74,93.23 L655.59,93.1 L657.43,92.97 L659.27,92.84 L661.12,92.72 L662.96,92.59 L664.81,92.47 L666.65,92.34 L668.49,92.22 L670.34,92.1 L672.18,91.99 L674.03,91.87 L675.87,91.75 L677.71,91.64 L679.56,91.53 L681.4,91.42 L683.25,91.31 L685.09,91.21 L686.94,91.11 L688.78,91 L690.62,90.91 L692.47,90.81 L694.31,90.72 L696.16,90.62 L698,90.55 L698,97.75 L696.16,97.82 L694.31,97.92 L692.47,98.01 L690.62,98.11 L688.78,98.2 L686.94,98.31 L685.09,98.41 L683.25,98.51 L681.4,98.62 L679.56,98.73 L677.71,98.84 L675.87,98.95 L674.03,99.07 L672.18,99.19 L670.34,99.3 L668.49,99.42 L666.65,99.54 L664.81,99.67 L662.96,99.79 L661.12,99.92 L659.27,100.04 L657.43,100.17 L655.59,100.3 L653.74,100.43 L651.9,100.57 L650.05,100.71 L648.21,100.85 L646.36,101 L644.52,101.15 L642.68,101.3 L640.83,101.45 L638.99,101.61 L637.14,101.77 L635.3,101.93 L633.46,102.09 L631.61,102.27 L629.77,102.45 L627.92,102.63 L626.08,102.82 L624.24,103.02 L622.39,103.21 L620.55,103.41 L618.7,103.61 L616.86,103.81 L615.01,104.01 L613.17,104.2 L611.33,104.39 L609.48,104.58 L607.64,104.76 L605.79,104.94 L603.95,105.12 L602.11,105.29 L600.26,105.47 L598.42,105.64 L596.57,105.82 L594.73,105.99 L592.89,106.16 L591.04,106.37 L589.2,106.57 L587.35,106.78 L585.51,107 L583.66,107.23 L581.82,107.46 L579.98,107.7 L578.13,107.92 L576.29,108.11 L574.44,108.27 L572.6,108.4 L570.76,108.46 L568.91,108.51 L567.07,108.55 L565.22,108.58 L563.38,108.62 L561.54,108.64 L559.69,108.7 L557.85,108.76 L556,108.78 L554.16,108.74 L552.31,108.66 L550.47,108.54 L548.63,108.41 L546.78,108.26 L544.94,108.08 L543.09,107.83 L541.25,107.51 L539.41,107.16 L537.56,106.78 L535.72,106.4 L533.87,106.02 L532.03,105.67 L530.19,105.36 L528.34,104.99 L526.5,104.63 L524.65,104.28 L522.81,103.93 L520.96,103.58 L519.12,103.23 L517.28,102.88 L515.43,102.53 L513.59,102.16 L511.74,101.79 L509.9,101.4 L508.06,101.01 L506.21,100.61 L504.37,100.2 L502.52,99.79 L500.68,99.38 L498.84,98.97 L496.99,98.55 L495.15,98.14 L493.3,97.73 L491.46,97.32 L489.61,96.91 L487.77,96.5 L485.93,96.08 L484.08,95.94 L482.24,95.79 L480.39,95.65 L478.55,95.5 L477.5,95.42 L476.38,95.33 L475.27,95.25 L474.15,95.16 L473.03,95.07 L471.91,94.98 L470.8,94.89 L469.68,94.8 L468.56,94.71 L467.44,94.62 L466.33,94.53 L465.21,94.29 L464.09,93.98 L462.98,93.66 L461.86,93.35 L460.74,93.04 L459.62,92.72 L458.51,92.41 L457.39,92.09 L456.27,91.78 L455.15,91.47 L454.04,91.15 L452.92,90.84 L451.8,90.52 L450.68,90.21 L449.57,89.9 L448.45,89.58 L447.33,89.27 L446.22,88.95 L445.1,88.64 L443.98,88.33 L442.86,88.01 L441.75,87.7 L440.63,87.38 L439.51,87.07 L438.39,86.76 L437.28,86.44 L436.16,86.13 L435.04,85.81 L433.93,85.5Z"/></g></mask></defs>
<rect x="383" y="35" width="315" height="100.5" fill="url(#chk)" mask="url(#mkb)"/>
<path d="M416.07,85.5 L465.95,85.5 L467.41,85.16 L468.87,84.83 L470.33,84.49 L471.79,84.15 L473.25,83.82 L474.71,83.48 L476.17,83.15 L477.63,82.81 L479.08,82.48 L480.54,82.14 L482,81.81 L483.46,81.48 L484.92,81.14 L486.38,80.81 L487.84,80.48 L489.3,80.15 L490.76,79.82 L492.22,79.49 L493.68,79.15 L495.14,78.82 L496.6,78.49 L498.06,78.15 L499.52,77.82 L500.98,77.48 L502.44,77.15 L503.9,76.82 L505.35,76.49 L506.81,76.17 L508.27,75.84 L509.73,75.53 L511.19,75.21 L512.65,74.91 L514.11,74.61 L515.57,74.31 L517.03,74.02 L518.49,73.74 L519.95,73.45 L521.41,73.17 L522.87,72.89 L524.33,72.61 L525.79,72.32 L527.25,72.03 L528.71,71.74 L530.17,71.44 L531.62,71.13 L533.08,70.8 L534.54,70.44 L536,70.08 L537.46,69.71 L538.92,69.34 L540.38,68.99 L541.84,68.65 L543.3,68.35 L544.76,68.08 L546.22,67.86 L547.68,67.68 L549.14,67.5 L550.6,67.33 L552.06,67.18 L553.52,67.04 L554.98,66.93 L556.43,66.85 L557.89,66.8 L559.35,66.78 L560.81,66.76 L562.27,66.75 L563.73,66.73 L565.19,66.72 L566.65,66.71 L568.11,66.71 L569.57,66.7 L571.03,66.7 L572.49,66.72 L573.95,66.77 L575.41,66.85 L576.87,66.96 L578.33,67.08 L579.79,67.22 L581.25,67.36 L582.7,67.51 L584.16,67.66 L585.62,67.81 L587.08,67.94 L588.54,68.07 L590,68.19 L591.46,68.32 L592.92,68.45 L594.38,68.58 L595.84,68.72 L597.3,68.85 L598.76,68.99 L600.22,69.13 L601.68,69.26 L603.14,69.4 L604.6,69.55 L606.06,69.69 L607.52,69.83 L608.97,69.97 L610.43,70.12 L611.89,70.27 L613.35,70.42 L614.81,70.57 L616.27,70.73 L617.73,70.88 L619.19,71.04 L620.65,71.2 L622.11,71.36 L623.57,71.51 L625.03,71.67 L626.49,71.82 L627.95,71.97 L629.41,72.12 L630.87,72.26 L632.33,72.4 L633.78,72.54 L635.24,72.67 L636.7,72.79 L638.16,72.92 L639.62,73.05 L641.08,73.17 L642.54,73.29 L644,73.41 L645.46,73.53 L646.92,73.65 L648.38,73.76 L649.84,73.87 L651.3,73.98 L652.76,74.09 L654.22,74.2 L655.68,74.31 L657.14,74.41 L658.6,74.51 L660.05,74.61 L661.51,74.71 L662.97,74.81 L664.43,74.91 L665.89,75.01 L667.35,75.1 L668.81,75.2 L670.27,75.29 L671.73,75.39 L673.19,75.48 L674.65,75.57 L676.11,75.66 L677.57,75.75 L679.03,75.84 L680.49,75.93 L681.95,76.01 L683.41,76.1 L684.87,76.18 L686.32,76.26 L687.78,76.34 L689.24,76.42 L690.7,76.5 L692.16,76.57 L693.62,76.65 L695.08,76.72 L696.54,76.79 L698,76.85" fill="none" stroke="#fff" stroke-opacity="0.95" stroke-width="1.0" stroke-dasharray="2.1 1"/>
<path d="M416.07,85.5 L465.95,85.5 L467.41,85.84 L468.87,86.17 L470.33,86.51 L471.79,86.85 L473.25,87.18 L474.71,87.52 L476.17,87.85 L477.63,88.19 L479.08,88.52 L480.54,88.86 L482,89.19 L483.46,89.52 L484.92,89.86 L486.38,90.19 L487.84,90.52 L489.3,90.85 L490.76,91.18 L492.22,91.51 L493.68,91.85 L495.14,92.18 L496.6,92.51 L498.06,92.85 L499.52,93.18 L500.98,93.52 L502.44,93.85 L503.9,94.18 L505.35,94.51 L506.81,94.83 L508.27,95.16 L509.73,95.47 L511.19,95.79 L512.65,96.09 L514.11,96.39 L515.57,96.69 L517.03,96.98 L518.49,97.26 L519.95,97.55 L521.41,97.83 L522.87,98.11 L524.33,98.39 L525.79,98.68 L527.25,98.97 L528.71,99.26 L530.17,99.56 L531.62,99.87 L533.08,100.2 L534.54,100.56 L536,100.92 L537.46,101.29 L538.92,101.66 L540.38,102.01 L541.84,102.35 L543.3,102.65 L544.76,102.92 L546.22,103.14 L547.68,103.32 L549.14,103.5 L550.6,103.67 L552.06,103.82 L553.52,103.96 L554.98,104.07 L556.43,104.15 L557.89,104.2 L559.35,104.22 L560.81,104.24 L562.27,104.25 L563.73,104.27 L565.19,104.28 L566.65,104.29 L568.11,104.29 L569.57,104.3 L571.03,104.3 L572.49,104.28 L573.95,104.23 L575.41,104.15 L576.87,104.04 L578.33,103.92 L579.79,103.78 L581.25,103.64 L582.7,103.49 L584.16,103.34 L585.62,103.19 L587.08,103.06 L588.54,102.93 L590,102.81 L591.46,102.68 L592.92,102.55 L594.38,102.42 L595.84,102.28 L597.3,102.15 L598.76,102.01 L600.22,101.87 L601.68,101.74 L603.14,101.6 L604.6,101.45 L606.06,101.31 L607.52,101.17 L608.97,101.03 L610.43,100.88 L611.89,100.73 L613.35,100.58 L614.81,100.43 L616.27,100.27 L617.73,100.12 L619.19,99.96 L620.65,99.8 L622.11,99.64 L623.57,99.49 L625.03,99.33 L626.49,99.18 L627.95,99.03 L629.41,98.88 L630.87,98.74 L632.33,98.6 L633.78,98.46 L635.24,98.33 L636.7,98.21 L638.16,98.08 L639.62,97.95 L641.08,97.83 L642.54,97.71 L644,97.59 L645.46,97.47 L646.92,97.35 L648.38,97.24 L649.84,97.13 L651.3,97.02 L652.76,96.91 L654.22,96.8 L655.68,96.69 L657.14,96.59 L658.6,96.49 L660.05,96.39 L661.51,96.29 L662.97,96.19 L664.43,96.09 L665.89,95.99 L667.35,95.9 L668.81,95.8 L670.27,95.71 L671.73,95.61 L673.19,95.52 L674.65,95.43 L676.11,95.34 L677.57,95.25 L679.03,95.16 L680.49,95.07 L681.95,94.99 L683.41,94.9 L684.87,94.82 L686.32,94.74 L687.78,94.66 L689.24,94.58 L690.7,94.5 L692.16,94.43 L693.62,94.35 L695.08,94.28 L696.54,94.21 L698,94.15" fill="none" stroke="#fff" stroke-opacity="0.95" stroke-width="1.0" stroke-dasharray="2.1 1"/>
<line x1="546.2" y1="28.2" x2="546.2" y2="142" stroke="#1a1a1a" stroke-width="1.3" stroke-dasharray="1.5 1"/>
<text x="536.2" y="47.8" font-size="14" font-style="italic" stroke-width="0.12" fill="#1a1a1a" stroke="#1a1a1a">t<tspan font-size="6.5" dy="3.2" font-style="normal">1</tspan></text>
<line x1="587.6" y1="28.2" x2="587.6" y2="142" stroke="#1a1a1a" stroke-width="1.3" stroke-dasharray="1.5 1"/>
<text x="577.6" y="47.8" font-size="14" font-style="italic" stroke-width="0.12" fill="#1a1a1a" stroke="#1a1a1a">t<tspan font-size="6.5" dy="3.2" font-style="normal">2</tspan></text>
<rect x="592.4" y="60.1" width="16.2" height="17.8" fill="none" stroke="#8a8a8a" stroke-width="1.1"/>
<rect x="376.6" y="28.2" width="327.7" height="113.8" fill="none" stroke="#1e1e1e" stroke-width="1.3"/>
<line x1="383" y1="28.2" x2="383" y2="30.7" stroke="#1e1e1e" stroke-width="1" />
<line x1="383" y1="142" x2="383" y2="139.5" stroke="#1e1e1e" stroke-width="1" />
<text x="383" y="25" font-size="14.0" text-anchor="middle" fill="#1a1a1a" stroke="#1a1a1a" stroke-width="0.35"  >0</text>
<line x1="488" y1="28.2" x2="488" y2="30.7" stroke="#1e1e1e" stroke-width="1" />
<line x1="488" y1="142" x2="488" y2="139.5" stroke="#1e1e1e" stroke-width="1" />
<text x="488" y="25" font-size="14.0" text-anchor="middle" fill="#1a1a1a" stroke="#1a1a1a" stroke-width="0.35"  >10</text>
<line x1="593" y1="28.2" x2="593" y2="30.7" stroke="#1e1e1e" stroke-width="1" />
<line x1="593" y1="142" x2="593" y2="139.5" stroke="#1e1e1e" stroke-width="1" />
<text x="593" y="25" font-size="14.0" text-anchor="middle" fill="#1a1a1a" stroke="#1a1a1a" stroke-width="0.35"  >20</text>
<line x1="698" y1="28.2" x2="698" y2="30.7" stroke="#1e1e1e" stroke-width="1" />
<line x1="698" y1="142" x2="698" y2="139.5" stroke="#1e1e1e" stroke-width="1" />
<text x="698" y="25" font-size="14.0" text-anchor="middle" fill="#1a1a1a" stroke="#1a1a1a" stroke-width="0.35"  >30</text>
<line x1="376.6" y1="35.05" x2="379.1" y2="35.05" stroke="#1e1e1e" stroke-width="1" />
<line x1="704.3" y1="35.05" x2="701.8" y2="35.05" stroke="#1e1e1e" stroke-width="1" />
<line x1="376.6" y1="60.15" x2="379.1" y2="60.15" stroke="#1e1e1e" stroke-width="1" />
<line x1="704.3" y1="60.15" x2="701.8" y2="60.15" stroke="#1e1e1e" stroke-width="1" />
<line x1="376.6" y1="85.25" x2="379.1" y2="85.25" stroke="#1e1e1e" stroke-width="1" />
<line x1="704.3" y1="85.25" x2="701.8" y2="85.25" stroke="#1e1e1e" stroke-width="1" />
<line x1="376.6" y1="110.35" x2="379.1" y2="110.35" stroke="#1e1e1e" stroke-width="1" />
<line x1="704.3" y1="110.35" x2="701.8" y2="110.35" stroke="#1e1e1e" stroke-width="1" />
<line x1="376.6" y1="135.45" x2="379.1" y2="135.45" stroke="#1e1e1e" stroke-width="1" />
<line x1="704.3" y1="135.45" x2="701.8" y2="135.45" stroke="#1e1e1e" stroke-width="1" />
<text x="540.95" y="11.2" font-size="14.0" text-anchor="middle" fill="#1a1a1a" stroke="#1a1a1a" stroke-width="0.35"  ><tspan font-style="italic">t</tspan> (ns)</text>
<text x="-0.3" y="9.4" font-size="12.2" text-anchor="start" fill="#1a1a1a" stroke="#1a1a1a" stroke-width="0.35"  >(a)</text>
<text x="375.8" y="9.4" font-size="12.2" text-anchor="start" fill="#1a1a1a" stroke="#1a1a1a" stroke-width="0.35"  >(b)</text>
<text transform="translate(11.8,85.7) rotate(-90)" font-size="14.0" text-anchor="middle" fill="#1a1a1a" stroke="#1a1a1a" stroke-width="0.35"><tspan font-style="italic">x</tspan> (μm)</text>
<polyline points="202.6,78.2 202.6,156.4 110,156.4 92.4,175.6" fill="none" stroke="#8a8a8a" stroke-width="1.1"/>
<polyline points="265.2,72.5 265.2,141 231,175.6" fill="none" stroke="#8a8a8a" stroke-width="1.1"/>
<polyline points="600.5,77.9 600.5,156.4 392.3,156.4 374.7,175.4" fill="none" stroke="#8a8a8a" stroke-width="1.1"/>
<rect x="40.8" y="175.6" width="101.7" height="113.6" fill="#e9e3c6"/>
<rect x="40.8" y="175.6" width="101.7" height="113.6" fill="url(#sg1)"/>
<polygon points="40.8,179.8 53.51,176.75 66.22,175.6 78.94,175.6 91.65,175.6 104.36,175.6 117.08,175.6 129.79,175.6 142.5,175.6 142.5,287.8 129.79,289.2 117.08,289.2 104.36,289.2 91.65,289.2 78.94,289.2 66.22,289.2 53.51,289.2 40.8,289.2" fill="url(#sg2)"/>
<polygon points="40.8,191 53.51,187.95 66.22,184.9 78.94,181.85 91.65,178.8 104.36,175.75 117.08,175.6 129.79,175.6 142.5,175.6 142.5,276.6 129.79,279.65 117.08,282.7 104.36,285.75 91.65,288.8 78.94,289.2 66.22,289.2 53.51,289.2 40.8,289.2" fill="url(#sg3)"/>
<polygon points="40.8,197 53.51,193.95 66.22,190.9 78.94,187.85 91.65,184.8 104.36,181.75 117.08,178.7 129.79,175.65 142.5,175.6 142.5,270.6 129.79,273.65 117.08,276.7 104.36,279.75 91.65,282.8 78.94,285.85 66.22,288.9 53.51,289.2 40.8,289.2" fill="url(#sg4)"/>
<polygon points="40.8,201.4 53.51,198.35 66.22,195.3 78.94,192.25 91.65,189.2 104.36,186.15 117.08,183.1 129.79,180.05 142.5,177 142.5,266.2 129.79,269.25 117.08,272.3 104.36,275.35 91.65,278.4 78.94,281.45 66.22,284.5 53.51,287.55 40.8,289.2" fill="url(#sg5)"/>
<polygon points="40.8,204.8 53.51,201.75 66.22,198.7 78.94,195.65 91.65,192.6 104.36,189.55 117.08,186.5 129.79,183.45 142.5,180.4 142.5,262.8 129.79,265.85 117.08,268.9 104.36,271.95 91.65,275 78.94,278.05 66.22,281.1 53.51,284.15 40.8,287.2" fill="url(#sg6)"/>
<polygon points="40.8,207.4 53.51,204.35 66.22,201.3 78.94,198.25 91.65,195.2 104.36,192.15 117.08,189.1 129.79,186.05 142.5,183 142.5,260.2 129.79,263.25 117.08,266.3 104.36,269.35 91.65,272.4 78.94,275.45 66.22,278.5 53.51,281.55 40.8,284.6" fill="url(#sg7)"/>
<polygon points="40.8,209.2 53.51,206.15 66.22,203.1 78.94,200.05 91.65,197 104.36,193.95 117.08,190.9 129.79,187.85 142.5,184.8 142.5,258.4 129.79,261.45 117.08,264.5 104.36,267.55 91.65,270.6 78.94,273.65 66.22,276.7 53.51,279.75 40.8,282.8" fill="url(#sg8)"/>
<polygon points="40.8,210.6 53.51,207.55 66.22,204.5 78.94,201.45 91.65,198.4 104.36,195.35 117.08,192.3 129.79,189.25 142.5,186.2 142.5,257 129.79,260.05 117.08,263.1 104.36,266.15 91.65,269.2 78.94,272.25 66.22,275.3 53.51,278.35 40.8,281.4" fill="url(#sg9)"/>
<polygon points="40.8,211.6 53.51,208.55 66.22,205.5 78.94,202.45 91.65,199.4 104.36,196.35 117.08,193.3 129.79,190.25 142.5,187.2 142.5,256 129.79,259.05 117.08,262.1 104.36,265.15 91.65,268.2 78.94,271.25 66.22,274.3 53.51,277.35 40.8,280.4" fill="url(#sg10)"/>
<polygon points="40.8,212.4 53.51,209.35 66.22,206.3 78.94,203.25 91.65,200.2 104.36,197.15 117.08,194.1 129.79,191.05 142.5,188 142.5,255.2 129.79,258.25 117.08,261.3 104.36,264.35 91.65,267.4 78.94,270.45 66.22,273.5 53.51,276.55 40.8,279.6" fill="url(#sg11)"/>
<polygon points="40.8,213.8 53.51,210.75 66.22,207.7 78.94,204.65 91.65,201.6 104.36,198.55 117.08,195.5 129.79,192.45 142.5,189.4 142.5,253.8 129.79,256.85 117.08,259.9 104.36,262.95 91.65,266 78.94,269.05 66.22,272.1 53.51,275.15 40.8,278.2" fill="url(#sg12)"/>
<polygon points="40.8,214.8 53.51,211.75 66.22,208.7 78.94,205.65 91.65,202.6 104.36,199.55 117.08,196.5 129.79,193.45 142.5,190.4 142.5,252.8 129.79,255.85 117.08,258.9 104.36,261.95 91.65,265 78.94,268.05 66.22,271.1 53.51,274.15 40.8,277.2" fill="url(#sg13)"/>
<polygon points="40.8,215.8 53.51,212.75 66.22,209.7 78.94,206.65 91.65,203.6 104.36,200.55 117.08,197.5 129.79,194.45 142.5,191.4 142.5,251.8 129.79,254.85 117.08,257.9 104.36,260.95 91.65,264 78.94,267.05 66.22,270.1 53.51,273.15 40.8,276.2" fill="url(#sg14)"/>
<polygon points="40.8,216.6 53.51,213.55 66.22,210.5 78.94,207.45 91.65,204.4 104.36,201.35 117.08,198.3 129.79,195.25 142.5,192.2 142.5,251 129.79,254.05 117.08,257.1 104.36,260.15 91.65,263.2 78.94,266.25 66.22,269.3 53.51,272.35 40.8,275.4" fill="url(#sg15)"/>
<polygon points="40.8,217.2 53.51,214.15 66.22,211.1 78.94,208.05 91.65,205 104.36,201.95 117.08,198.9 129.79,195.85 142.5,192.8 142.5,250.4 129.79,253.45 117.08,256.5 104.36,259.55 91.65,262.6 78.94,265.65 66.22,268.7 53.51,271.75 40.8,274.8" fill="url(#sg16)"/>
<polygon points="40.8,217.8 53.51,214.75 66.22,211.7 78.94,208.65 91.65,205.6 104.36,202.55 117.08,199.5 129.79,196.45 142.5,193.4 142.5,249.8 129.79,252.85 117.08,255.9 104.36,258.95 91.65,262 78.94,265.05 66.22,268.1 53.51,271.15 40.8,274.2" fill="url(#sg17)"/>
<polygon points="40.8,218.4 53.51,215.35 66.22,212.3 78.94,209.25 91.65,206.2 104.36,203.15 117.08,200.1 129.79,197.05 142.5,194 142.5,249.2 129.79,252.25 117.08,255.3 104.36,258.35 91.65,261.4 78.94,264.45 66.22,267.5 53.51,270.55 40.8,273.6" fill="url(#sg18)"/>
<polygon points="40.8,219 53.51,215.95 66.22,212.9 78.94,209.85 91.65,206.8 104.36,203.75 117.08,200.7 129.79,197.65 142.5,194.6 142.5,248.6 129.79,251.65 117.08,254.7 104.36,257.75 91.65,260.8 78.94,263.85 66.22,266.9 53.51,269.95 40.8,273" fill="url(#sg19)"/>
<polygon points="40.8,220.6 53.51,217.55 66.22,214.5 78.94,211.45 91.65,208.4 104.36,205.35 117.08,202.3 129.79,199.25 142.5,196.2 142.5,247 129.79,250.05 117.08,253.1 104.36,256.15 91.65,259.2 78.94,262.25 66.22,265.3 53.51,268.35 40.8,271.4" fill="url(#sg20)"/>
<rect x="179.5" y="175.6" width="101.7" height="113.2" fill="#e9e3c6"/>
<rect x="179.5" y="175.6" width="101.7" height="113.2" fill="url(#sg21)"/>
<polygon points="179.5,183.6 192.21,182.72 204.93,181.85 217.64,180.97 230.35,180.1 243.06,179.22 255.77,178.35 268.49,177.47 281.2,176.6 281.2,279.4 268.49,280.27 255.77,281.15 243.06,282.02 230.35,282.9 217.64,283.77 204.93,284.65 192.21,285.52 179.5,286.4" fill="url(#sg22)"/>
<polygon points="179.5,192 192.21,191.12 204.93,190.25 217.64,189.38 230.35,188.5 243.06,187.62 255.77,186.75 268.49,185.88 281.2,185 281.2,271 268.49,271.88 255.77,272.75 243.06,273.62 230.35,274.5 217.64,275.38 204.93,276.25 192.21,277.12 179.5,278" fill="url(#sg23)"/>
<polygon points="179.5,197.8 192.21,196.93 204.93,196.05 217.64,195.18 230.35,194.3 243.06,193.43 255.77,192.55 268.49,191.68 281.2,190.8 281.2,265.2 268.49,266.07 255.77,266.95 243.06,267.82 230.35,268.7 217.64,269.57 204.93,270.45 192.21,271.32 179.5,272.2" fill="url(#sg24)"/>
<polygon points="179.5,202.6 192.21,201.72 204.93,200.85 217.64,199.97 230.35,199.1 243.06,198.22 255.77,197.35 268.49,196.47 281.2,195.6 281.2,260.4 268.49,261.27 255.77,262.15 243.06,263.02 230.35,263.9 217.64,264.77 204.93,265.65 192.21,266.52 179.5,267.4" fill="url(#sg25)"/>
<polygon points="179.5,206.8 192.21,205.93 204.93,205.05 217.64,204.18 230.35,203.3 243.06,202.43 255.77,201.55 268.49,200.68 281.2,199.8 281.2,256.2 268.49,257.07 255.77,257.95 243.06,258.82 230.35,259.7 217.64,260.57 204.93,261.45 192.21,262.32 179.5,263.2" fill="url(#sg26)"/>
<polygon points="179.5,210.8 192.21,209.93 204.93,209.05 217.64,208.18 230.35,207.3 243.06,206.43 255.77,205.55 268.49,204.68 281.2,203.8 281.2,252.2 268.49,253.07 255.77,253.95 243.06,254.82 230.35,255.7 217.64,256.57 204.93,257.45 192.21,258.32 179.5,259.2" fill="url(#sg27)"/>
<polygon points="179.5,214.8 192.21,213.93 204.93,213.05 217.64,212.18 230.35,211.3 243.06,210.43 255.77,209.55 268.49,208.68 281.2,207.8 281.2,248.2 268.49,249.07 255.77,249.95 243.06,250.82 230.35,251.7 217.64,252.57 204.93,253.45 192.21,254.32 179.5,255.2" fill="url(#sg28)"/>
<polygon points="179.5,219 192.21,218.12 204.93,217.25 217.64,216.38 230.35,215.5 243.06,214.62 255.77,213.75 268.49,212.88 281.2,212 281.2,244 268.49,244.88 255.77,245.75 243.06,246.62 230.35,247.5 217.64,248.38 204.93,249.25 192.21,250.12 179.5,251" fill="url(#sg29)"/>
<polygon points="179.5,224 192.21,223.12 204.93,222.25 217.64,221.38 230.35,220.5 243.06,219.62 255.77,218.75 268.49,217.88 281.2,217 281.2,239 268.49,239.88 255.77,240.75 243.06,241.62 230.35,242.5 217.64,243.38 204.93,244.25 192.21,245.12 179.5,246" fill="url(#sg30)"/>
<polygon points="179.5,235 192.21,234.12 204.93,233.25 217.64,232.38 230.35,231.5 243.06,230.62 255.77,229.75 268.49,228.88 281.2,228 281.2,228 268.49,228.88 255.77,229.75 243.06,230.62 230.35,231.5 217.64,232.38 204.93,233.25 192.21,234.12 179.5,235" fill="url(#sg31)"/>
<rect x="323.7" y="175.4" width="101.7" height="113.9" fill="#e9e3c6"/>
<rect x="323.7" y="175.4" width="101.7" height="113.9" fill="url(#sg32)"/>
<polygon points="323.7,175.4 336.41,175.4 349.12,175.4 361.84,175.4 374.55,175.4 387.26,176.45 399.97,178.3 412.69,180.15 425.4,182.2 425.4,271.8 412.69,273.35 399.97,274.7 387.26,276.05 374.55,277.4 361.84,278.95 349.12,280.3 336.41,281.65 323.7,283" fill="url(#sg33)"/>
<polygon points="323.7,175.6 336.41,177.45 349.12,179.3 361.84,180.95 374.55,182.8 387.26,184.65 399.97,186.5 412.69,188.15 425.4,190 425.4,264 412.69,265.35 399.97,266.5 387.26,267.85 374.55,269.2 361.84,270.55 349.12,271.7 336.41,273.05 323.7,274.4" fill="url(#sg34)"/>
<polygon points="323.7,181.2 336.41,182.85 349.12,184.5 361.84,186.35 374.55,188 387.26,189.85 399.97,191.5 412.69,193.35 425.4,195.2 425.4,258.8 412.69,260.15 399.97,261.5 387.26,262.65 374.55,264 361.84,265.15 349.12,266.5 336.41,267.65 323.7,268.8" fill="url(#sg35)"/>
<polygon points="323.7,185.4 336.41,187.05 349.12,188.7 361.84,190.35 374.55,192.2 387.26,193.85 399.97,195.7 412.69,197.55 425.4,199.2 425.4,254.8 412.69,255.95 399.97,257.3 387.26,258.65 374.55,259.8 361.84,261.15 349.12,262.3 336.41,263.45 323.7,264.6" fill="url(#sg36)"/>
<polygon points="323.7,188.8 336.41,190.45 349.12,192.3 361.84,193.95 374.55,195.6 387.26,197.45 399.97,199.1 412.69,200.95 425.4,202.8 425.4,251.2 412.69,252.55 399.97,253.9 387.26,255.05 374.55,256.4 361.84,257.55 349.12,258.7 336.41,260.05 323.7,261.2" fill="url(#sg37)"/>
<polygon points="323.7,192 336.41,193.65 349.12,195.3 361.84,197.15 374.55,198.8 387.26,200.65 399.97,202.5 412.69,204.35 425.4,206.2 425.4,247.8 412.69,249.15 399.97,250.5 387.26,251.85 374.55,253.2 361.84,254.35 349.12,255.7 336.41,256.85 323.7,258" fill="url(#sg38)"/>
<polygon points="323.7,195 336.41,196.65 349.12,198.3 361.84,200.15 374.55,201.8 387.26,203.65 399.97,205.5 412.69,207.55 425.4,209.6 425.4,244.4 412.69,245.95 399.97,247.5 387.26,248.85 374.55,250.2 361.84,251.35 349.12,252.7 336.41,253.85 323.7,255" fill="url(#sg39)"/>
<polygon points="323.7,197.6 336.41,199.45 349.12,201.1 361.84,202.95 374.55,204.8 387.26,206.65 399.97,208.7 412.69,210.75 425.4,213 425.4,241 412.69,242.75 399.97,244.3 387.26,245.85 374.55,247.2 361.84,248.55 349.12,249.9 336.41,251.05 323.7,252.4" fill="url(#sg40)"/>
<polygon points="323.7,200.4 336.41,202.05 349.12,203.9 361.84,205.75 374.55,207.6 387.26,209.65 399.97,211.9 412.69,214.35 425.4,217 425.4,237 412.69,239.15 399.97,241.1 387.26,242.85 374.55,244.4 361.84,245.75 349.12,247.1 336.41,248.45 323.7,249.6" fill="url(#sg41)"/>
<polygon points="323.7,203 336.41,204.85 349.12,206.7 361.84,208.75 374.55,210.8 387.26,213.05 399.97,215.5 412.69,218.55 425.4,223 425.4,231 412.69,234.95 399.97,237.5 387.26,239.45 374.55,241.2 361.84,242.75 349.12,244.3 336.41,245.65 323.7,247" fill="url(#sg42)"/>
<polygon points="323.7,205.6 336.41,207.65 349.12,209.7 361.84,211.75 374.55,214.2 387.26,217.05 399.97,220.7 412.69,226.75 425.4,227 425.4,227 412.69,226.75 399.97,232.3 387.26,235.45 374.55,237.8 361.84,239.75 349.12,241.3 336.41,242.85 323.7,244.4" fill="url(#sg43)"/>
<polygon points="323.7,211.6 336.41,214.05 349.12,216.9 361.84,220.75 374.55,226 387.26,226.25 399.97,226.5 412.69,226.75 425.4,227 425.4,227 412.69,226.75 399.97,226.5 387.26,226.25 374.55,226 361.84,230.75 349.12,234.1 336.41,236.45 323.7,238.4" fill="url(#sg44)"/>
<polygon points="323.7,221.2 336.41,225.25 349.12,225.5 361.84,225.75 374.55,226 387.26,226.25 399.97,226.5 412.69,226.75 425.4,227 425.4,227 412.69,226.75 399.97,226.5 387.26,226.25 374.55,226 361.84,225.75 349.12,225.5 336.41,225.25 323.7,228.8" fill="url(#sg45)"/>
<rect x="40.8" y="175.6" width="101.7" height="113.6" fill="none" stroke="#1e1e1e" stroke-width="1.3"/>
<line x1="40.8" y1="289.2" x2="40.8" y2="286.2" stroke="#1e1e1e" stroke-width="1" />
<line x1="40.8" y1="175.6" x2="40.8" y2="178.6" stroke="#1e1e1e" stroke-width="1" />
<text x="40.8" y="302.3" font-size="14.0" text-anchor="middle" fill="#1a1a1a" stroke="#1a1a1a" stroke-width="0.35"  >14</text>
<line x1="98.6" y1="289.2" x2="98.6" y2="286.2" stroke="#1e1e1e" stroke-width="1" />
<line x1="98.6" y1="175.6" x2="98.6" y2="178.6" stroke="#1e1e1e" stroke-width="1" />
<text x="98.6" y="302.3" font-size="14.0" text-anchor="middle" fill="#1a1a1a" stroke="#1a1a1a" stroke-width="0.35"  >15</text>
<line x1="40.8" y1="176.2" x2="43.8" y2="176.2" stroke="#1e1e1e" stroke-width="1" />
<line x1="142.5" y1="176.2" x2="139.5" y2="176.2" stroke="#1e1e1e" stroke-width="1" />
<text x="39.2" y="180.9" font-size="14.0" text-anchor="end" fill="#1a1a1a" stroke="#1a1a1a" stroke-width="0.35"  >5</text>
<line x1="40.8" y1="208.5" x2="43.8" y2="208.5" stroke="#1e1e1e" stroke-width="1" />
<line x1="142.5" y1="208.5" x2="139.5" y2="208.5" stroke="#1e1e1e" stroke-width="1" />
<text x="39.2" y="213.2" font-size="14.0" text-anchor="end" fill="#1a1a1a" stroke="#1a1a1a" stroke-width="0.35"  >4</text>
<line x1="40.8" y1="240.8" x2="43.8" y2="240.8" stroke="#1e1e1e" stroke-width="1" />
<line x1="142.5" y1="240.8" x2="139.5" y2="240.8" stroke="#1e1e1e" stroke-width="1" />
<text x="39.2" y="245.5" font-size="14.0" text-anchor="end" fill="#1a1a1a" stroke="#1a1a1a" stroke-width="0.35"  >3</text>
<line x1="40.8" y1="273.1" x2="43.8" y2="273.1" stroke="#1e1e1e" stroke-width="1" />
<line x1="142.5" y1="273.1" x2="139.5" y2="273.1" stroke="#1e1e1e" stroke-width="1" />
<text x="39.2" y="277.8" font-size="14.0" text-anchor="end" fill="#1a1a1a" stroke="#1a1a1a" stroke-width="0.35"  >2</text>
<rect x="179.5" y="175.6" width="101.7" height="113.2" fill="none" stroke="#1e1e1e" stroke-width="1.3"/>
<line x1="179.5" y1="288.8" x2="179.5" y2="285.8" stroke="#1e1e1e" stroke-width="1" />
<line x1="179.5" y1="175.6" x2="179.5" y2="178.6" stroke="#1e1e1e" stroke-width="1" />
<text x="179.5" y="302.3" font-size="14.0" text-anchor="middle" fill="#1a1a1a" stroke="#1a1a1a" stroke-width="0.35"  >20</text>
<line x1="238.3" y1="288.8" x2="238.3" y2="285.8" stroke="#1e1e1e" stroke-width="1" />
<line x1="238.3" y1="175.6" x2="238.3" y2="178.6" stroke="#1e1e1e" stroke-width="1" />
<text x="238.3" y="302.3" font-size="14.0" text-anchor="middle" fill="#1a1a1a" stroke="#1a1a1a" stroke-width="0.35"  >21</text>
<line x1="179.5" y1="175.9" x2="182.5" y2="175.9" stroke="#1e1e1e" stroke-width="1" />
<line x1="281.2" y1="175.9" x2="278.2" y2="175.9" stroke="#1e1e1e" stroke-width="1" />
<text x="177.9" y="180.6" font-size="14.0" text-anchor="end" fill="#1a1a1a" stroke="#1a1a1a" stroke-width="0.35"  >6</text>
<line x1="179.5" y1="208.2" x2="182.5" y2="208.2" stroke="#1e1e1e" stroke-width="1" />
<line x1="281.2" y1="208.2" x2="278.2" y2="208.2" stroke="#1e1e1e" stroke-width="1" />
<text x="177.9" y="212.9" font-size="14.0" text-anchor="end" fill="#1a1a1a" stroke="#1a1a1a" stroke-width="0.35"  >5</text>
<line x1="179.5" y1="240.5" x2="182.5" y2="240.5" stroke="#1e1e1e" stroke-width="1" />
<line x1="281.2" y1="240.5" x2="278.2" y2="240.5" stroke="#1e1e1e" stroke-width="1" />
<text x="177.9" y="245.2" font-size="14.0" text-anchor="end" fill="#1a1a1a" stroke="#1a1a1a" stroke-width="0.35"  >4</text>
<line x1="179.5" y1="272.9" x2="182.5" y2="272.9" stroke="#1e1e1e" stroke-width="1" />
<line x1="281.2" y1="272.9" x2="278.2" y2="272.9" stroke="#1e1e1e" stroke-width="1" />
<text x="177.9" y="277.6" font-size="14.0" text-anchor="end" fill="#1a1a1a" stroke="#1a1a1a" stroke-width="0.35"  >3</text>
<rect x="323.7" y="175.4" width="101.7" height="113.9" fill="none" stroke="#1e1e1e" stroke-width="1.3"/>
<line x1="323.7" y1="289.3" x2="323.7" y2="286.3" stroke="#1e1e1e" stroke-width="1" />
<line x1="323.7" y1="175.4" x2="323.7" y2="178.4" stroke="#1e1e1e" stroke-width="1" />
<text x="323.7" y="302.3" font-size="14.0" text-anchor="middle" fill="#1a1a1a" stroke="#1a1a1a" stroke-width="0.35"  >20</text>
<line x1="381.6" y1="289.3" x2="381.6" y2="286.3" stroke="#1e1e1e" stroke-width="1" />
<line x1="381.6" y1="175.4" x2="381.6" y2="178.4" stroke="#1e1e1e" stroke-width="1" />
<text x="381.6" y="302.3" font-size="14.0" text-anchor="middle" fill="#1a1a1a" stroke="#1a1a1a" stroke-width="0.35"  >21</text>
<line x1="323.7" y1="176" x2="326.7" y2="176" stroke="#1e1e1e" stroke-width="1" />
<line x1="425.4" y1="176" x2="422.4" y2="176" stroke="#1e1e1e" stroke-width="1" />
<text x="322.1" y="180.7" font-size="14.0" text-anchor="end" fill="#1a1a1a" stroke="#1a1a1a" stroke-width="0.35"  >5</text>
<line x1="323.7" y1="208.4" x2="326.7" y2="208.4" stroke="#1e1e1e" stroke-width="1" />
<line x1="425.4" y1="208.4" x2="422.4" y2="208.4" stroke="#1e1e1e" stroke-width="1" />
<text x="322.1" y="213.1" font-size="14.0" text-anchor="end" fill="#1a1a1a" stroke="#1a1a1a" stroke-width="0.35"  >4</text>
<line x1="323.7" y1="240.6" x2="326.7" y2="240.6" stroke="#1e1e1e" stroke-width="1" />
<line x1="425.4" y1="240.6" x2="422.4" y2="240.6" stroke="#1e1e1e" stroke-width="1" />
<text x="322.1" y="245.3" font-size="14.0" text-anchor="end" fill="#1a1a1a" stroke="#1a1a1a" stroke-width="0.35"  >3</text>
<line x1="323.7" y1="272.8" x2="326.7" y2="272.8" stroke="#1e1e1e" stroke-width="1" />
<line x1="425.4" y1="272.8" x2="422.4" y2="272.8" stroke="#1e1e1e" stroke-width="1" />
<text x="322.1" y="277.5" font-size="14.0" text-anchor="end" fill="#1a1a1a" stroke="#1a1a1a" stroke-width="0.35"  >2</text>
<text x="91.6" y="316" font-size="14.0" text-anchor="middle" fill="#1a1a1a" stroke="#1a1a1a" stroke-width="0.35"  ><tspan font-style="italic">t</tspan> (ns)</text>
<text x="230.3" y="316" font-size="14.0" text-anchor="middle" fill="#1a1a1a" stroke="#1a1a1a" stroke-width="0.35"  ><tspan font-style="italic">t</tspan> (ns)</text>
<text x="374.5" y="316" font-size="14.0" text-anchor="middle" fill="#1a1a1a" stroke="#1a1a1a" stroke-width="0.35"  ><tspan font-style="italic">t</tspan> (ns)</text>
<text x="-0.3" y="172.6" font-size="12.2" text-anchor="start" fill="#1a1a1a" stroke="#1a1a1a" stroke-width="0.35"  >(c)</text>
<text x="152" y="172.6" font-size="12.2" text-anchor="start" fill="#1a1a1a" stroke="#1a1a1a" stroke-width="0.35"  >(d)</text>
<text x="290.6" y="172.6" font-size="12.2" text-anchor="start" fill="#1a1a1a" stroke="#1a1a1a" stroke-width="0.35"  >(e)</text>
<text x="480.8" y="172.6" font-size="12.2" text-anchor="start" fill="#1a1a1a" stroke="#1a1a1a" stroke-width="0.35"  >(f)</text>
<text transform="translate(25.1,231.6) rotate(-90)" font-size="14.0" text-anchor="middle" fill="#1a1a1a" stroke="#1a1a1a" stroke-width="0.35"><tspan font-style="italic">x</tspan> (μm)</text>
<text transform="translate(163.3,231.6) rotate(-90)" font-size="14.0" text-anchor="middle" fill="#1a1a1a" stroke="#1a1a1a" stroke-width="0.35"><tspan font-style="italic">x</tspan> (μm)</text>
<text transform="translate(301.6,231.6) rotate(-90)" font-size="14.0" text-anchor="middle" fill="#1a1a1a" stroke="#1a1a1a" stroke-width="0.35"><tspan font-style="italic">x</tspan> (μm)</text>
<rect x="434.7" y="175.4" width="10.8" height="114.1" fill="url(#cbg)" stroke="#1e1e1e" stroke-width="1"/>
<text x="449.6" y="185.7" font-size="14.0" text-anchor="start" fill="#1a1a1a" stroke="#1a1a1a" stroke-width="0.35"  >1</text>
<text x="449.6" y="237.4" font-size="14.0" text-anchor="start" fill="#1a1a1a" stroke="#1a1a1a" stroke-width="0.35"  >0</text>
<text x="446.4" y="289.1" font-size="14.0" text-anchor="start" fill="#1a1a1a" stroke="#1a1a1a" stroke-width="0.35"  >-1</text>
<text transform="translate(462.1,232.5) rotate(90)" font-size="14.0" text-anchor="middle" fill="#1a1a1a" stroke="#1a1a1a" stroke-width="0.35"><tspan font-style="italic">M</tspan><tspan font-size="8" dy="2.5">z</tspan><tspan dy="-2.5"> (a.u.)</tspan></text>
<clipPath id="fclip"><rect x="520.3" y="175.2" width="184.1" height="113.8"/></clipPath>
<g clip-path="url(#fclip)">
<path d="M524.2,285.88 L524.77,285.88 L525.34,285.88 L525.91,285.87 L526.48,285.87 L527.05,285.87 L527.62,285.86 L528.19,285.86 L528.76,285.86 L529.33,285.85 L529.9,285.85 L530.47,285.85 L531.04,285.84 L531.61,285.84 L532.18,285.84 L532.75,285.83 L533.32,285.83 L533.89,285.82 L534.46,285.82 L535.03,285.82 L535.6,285.81 L536.17,285.81 L536.74,285.8 L537.31,285.8 L537.88,285.79 L538.45,285.79 L539.02,285.78 L539.59,285.78 L540.16,285.77 L540.73,285.77 L541.3,285.76 L541.87,285.76 L542.44,285.75 L543.01,285.74 L543.58,285.74 L544.15,285.73 L544.72,285.72 L545.29,285.72 L545.86,285.71 L546.43,285.7 L547,285.7 L547.57,285.69 L548.14,285.68 L548.71,285.67 L549.28,285.66 L549.85,285.65 L550.42,285.64 L550.99,285.63 L551.56,285.62 L552.13,285.61 L552.7,285.6 L553.27,285.59 L553.84,285.58 L554.41,285.57 L554.98,285.56 L555.55,285.55 L556.12,285.53 L556.69,285.52 L557.26,285.51 L557.83,285.49 L558.4,285.48 L558.97,285.46 L559.54,285.44 L560.1,285.43 L560.67,285.41 L561.24,285.39 L561.81,285.37 L562.38,285.35 L562.95,285.33 L563.52,285.31 L564.09,285.29 L564.66,285.26 L565.23,285.24 L565.8,285.21 L566.37,285.19 L566.94,285.16 L567.51,285.13 L568.08,285.1 L568.65,285.06 L569.22,285.03 L569.79,284.99 L570.36,284.96 L570.93,284.92 L571.5,284.87 L572.07,284.83 L572.64,284.78 L573.21,284.73 L573.78,284.68 L574.35,284.63 L574.92,284.57 L575.49,284.51 L576.06,284.44 L576.63,284.37 L577.2,284.3 L577.77,284.22 L578.34,284.14 L578.91,284.05 L579.48,283.96 L580.05,283.86 L580.62,283.75 L581.19,283.64 L581.76,283.51 L581.9,283.48 L582.33,283.38 L582.79,283.27 L582.9,283.25 L583.47,283.1 L583.69,283.04 L584.04,282.94 L584.58,282.78 L584.61,282.76 L585.18,282.58 L585.47,282.48 L585.75,282.38 L586.32,282.17 L586.36,282.16 L586.89,281.94 L587.25,281.79 L587.46,281.7 L588.03,281.44 L588.14,281.39 L588.6,281.16 L589.03,280.93 L589.17,280.86 L589.74,280.54 L589.92,280.43 L590.31,280.19 L590.81,279.87 L590.88,279.83 L591.45,279.44 L591.7,279.26 L592.02,279.03 L592.59,278.59 L593.16,278.14 L593.48,277.87 L593.73,277.66 L594.3,277.15 L594.37,277.09 L594.87,276.62 L595.26,276.23 L595.44,276.05 L595.62,275.86 L595.8,275.66 L595.97,275.46 L596.01,275.42 L596.15,275.24 L596.33,275.02 L596.51,274.78 L596.58,274.68 L596.69,274.52 L596.86,274.23 L597.04,273.91 L597.15,273.7 L597.22,273.55 L597.4,273.14 L597.58,272.64 L597.72,272.17 L597.76,272.04 L597.93,271.29 L598.11,270.32 L598.29,269.03 L598.47,267.24 L598.65,264.65 L598.82,260.68 L598.86,259.65 L599,254.28 L599.18,243.35 L599.36,224.29 L599.43,213.67 L599.54,195.68 L599.71,177.3 L599.89,195.68 L600,213.67 L600.07,224.29 L600.25,243.35 L600.43,254.28 L600.57,259.65 L600.6,260.68 L600.78,264.65 L600.96,267.24 L601.14,269.03 L601.32,270.32 L601.5,271.29 L601.67,272.04 L601.71,272.17 L601.85,272.64 L602.03,273.14 L602.21,273.55 L602.28,273.7 L602.39,273.91 L602.56,274.23 L602.74,274.52 L602.85,274.68 L602.92,274.78 L603.1,275.02 L603.28,275.24 L603.42,275.42 L603.45,275.46 L603.63,275.66 L603.81,275.86 L603.99,276.05 L604.17,276.23 L604.56,276.62 L605.06,277.09 L605.13,277.15 L605.7,277.66 L605.95,277.87 L606.27,278.14 L606.84,278.59 L607.41,279.03 L607.73,279.26 L607.98,279.44 L608.55,279.83 L608.62,279.87 L609.12,280.19 L609.51,280.43 L609.69,280.54 L610.26,280.86 L610.4,280.93 L610.83,281.16 L611.29,281.39 L611.4,281.44 L611.97,281.7 L612.18,281.79 L612.54,281.94 L613.07,282.16 L613.11,282.17 L613.68,282.38 L613.96,282.48 L614.25,282.58 L614.82,282.76 L614.85,282.78 L615.39,282.94 L615.74,283.04 L615.96,283.1 L616.53,283.25 L616.63,283.27 L617.1,283.38 L617.52,283.48 L617.67,283.51 L618.24,283.64 L618.81,283.75 L619.38,283.86 L619.95,283.96 L620.52,284.05 L621.09,284.14 L621.66,284.22 L622.23,284.3 L622.8,284.37 L623.37,284.44 L623.94,284.51 L624.51,284.57 L625.08,284.63 L625.65,284.68 L626.22,284.73 L626.79,284.78 L627.36,284.83 L627.93,284.87 L628.5,284.92 L629.07,284.96 L629.64,284.99 L630.21,285.03 L630.78,285.06 L631.34,285.1 L631.91,285.13 L632.48,285.16 L633.05,285.19 L633.62,285.21 L634.19,285.24 L634.76,285.26 L635.33,285.29 L635.9,285.31 L636.47,285.33 L637.04,285.35 L637.61,285.37 L638.18,285.39 L638.75,285.41 L639.32,285.43 L639.89,285.44 L640.46,285.46 L641.03,285.48 L641.6,285.49 L642.17,285.51 L642.74,285.52 L643.31,285.53 L643.88,285.55 L644.45,285.56 L645.02,285.57 L645.59,285.58 L646.16,285.59 L646.73,285.6 L647.3,285.61 L647.87,285.62 L648.44,285.63 L649.01,285.64 L649.58,285.65 L650.15,285.66 L650.72,285.67 L651.29,285.68 L651.86,285.69 L652.43,285.7 L653,285.7 L653.57,285.71 L654.14,285.72 L654.71,285.72 L655.28,285.73 L655.85,285.74 L656.42,285.74 L656.99,285.75 L657.56,285.76 L658.13,285.76 L658.7,285.77 L659.27,285.77 L659.84,285.78 L660.41,285.78 L660.98,285.79 L661.55,285.79 L662.12,285.8 L662.69,285.8 L663.26,285.81 L663.83,285.81 L664.4,285.82 L664.97,285.82 L665.54,285.82 L666.11,285.83 L666.68,285.83 L667.25,285.84 L667.82,285.84 L668.39,285.84 L668.96,285.85 L669.53,285.85 L670.1,285.85 L670.67,285.86 L671.24,285.86 L671.81,285.86 L672.38,285.87 L672.95,285.87 L673.52,285.87 L674.09,285.88 L674.66,285.88 L675.23,285.88 L675.8,285.88 L676.37,285.89 L676.94,285.89 L677.51,285.89 L678.08,285.89 L678.65,285.9 L679.22,285.9 L679.79,285.9 L680.36,285.9 L680.93,285.91 L681.5,285.91 L682.07,285.91 L682.64,285.91 L683.21,285.91 L683.78,285.92 L684.35,285.92 L684.92,285.92 L685.49,285.92 L686.06,285.92 L686.63,285.92 L687.2,285.93 L687.77,285.93 L688.34,285.93 L688.91,285.93 L689.48,285.93 L690.05,285.94 L690.62,285.94 L691.19,285.94 L691.76,285.94 L692.33,285.94 L692.9,285.94 L693.47,285.94 L694.04,285.95 L694.61,285.95 L695.18,285.95 L695.75,285.95 L696.32,285.95 L696.89,285.95 L697.46,285.95 L698.03,285.95 L698.6,285.96 L699.17,285.96 L699.74,285.96 L700.31,285.96 L700.88,285.96 L701.45,285.96 L702.02,285.96 L702.58,285.96 L703.15,285.97 L703.72,285.97 L704.29,285.97" fill="none" stroke="#2451c0" stroke-width="1.7" stroke-linejoin="round"/>
<path d="M524.2,285.67 L524.77,285.67 L525.34,285.66 L525.91,285.66 L526.48,285.66 L527.05,285.66 L527.62,285.66 L528.19,285.66 L528.76,285.65 L529.33,285.65 L529.9,285.65 L530.47,285.65 L531.04,285.65 L531.61,285.65 L532.18,285.64 L532.75,285.64 L533.32,285.64 L533.89,285.64 L534.46,285.64 L535.03,285.63 L535.6,285.63 L536.17,285.63 L536.74,285.63 L537.31,285.63 L537.88,285.62 L538.45,285.62 L539.02,285.62 L539.59,285.62 L540.16,285.62 L540.73,285.61 L541.3,285.61 L541.87,285.61 L542.44,285.61 L543.01,285.6 L543.58,285.6 L544.15,285.6 L544.72,285.6 L545.29,285.59 L545.86,285.59 L546.43,285.59 L547,285.59 L547.57,285.58 L548.14,285.58 L548.71,285.58 L549.28,285.57 L549.85,285.57 L550.42,285.57 L550.99,285.57 L551.56,285.56 L552.13,285.56 L552.7,285.56 L553.27,285.55 L553.84,285.55 L554.41,285.55 L554.98,285.54 L555.55,285.54 L556.12,285.54 L556.69,285.53 L557.26,285.53 L557.83,285.52 L558.4,285.52 L558.97,285.52 L559.54,285.51 L560.1,285.51 L560.67,285.51 L561.24,285.5 L561.81,285.5 L562.38,285.49 L562.95,285.49 L563.52,285.48 L564.09,285.48 L564.66,285.47 L565.23,285.47 L565.8,285.47 L566.37,285.46 L566.94,285.46 L567.51,285.45 L568.08,285.45 L568.65,285.44 L569.22,285.44 L569.79,285.43 L570.36,285.42 L570.93,285.42 L571.5,285.41 L572.07,285.41 L572.64,285.4 L573.21,285.39 L573.78,285.39 L574.35,285.38 L574.92,285.38 L575.49,285.37 L576.06,285.36 L576.63,285.36 L577.2,285.35 L577.77,285.34 L578.34,285.33 L578.91,285.33 L579.48,285.32 L580.05,285.31 L580.62,285.3 L581.19,285.29 L581.76,285.29 L582.33,285.28 L582.9,285.27 L583.47,285.26 L584.04,285.25 L584.61,285.24 L585.18,285.23 L585.75,285.22 L586.32,285.21 L586.89,285.2 L587.46,285.19 L588.03,285.18 L588.6,285.17 L589.17,285.16 L589.74,285.14 L590.31,285.13 L590.88,285.12 L591.45,285.11 L592.02,285.09 L592.59,285.08 L593.16,285.07 L593.73,285.05 L594.3,285.04 L594.87,285.02 L595.44,285.01 L596.01,284.99 L596.58,284.97 L597.15,284.96 L597.72,284.94 L598.29,284.92 L598.86,284.91 L599.43,284.89 L600,284.87 L600.57,284.85 L601.14,284.83 L601.71,284.81 L602.28,284.78 L602.85,284.76 L603.42,284.74 L603.99,284.72 L604.56,284.69 L605.13,284.67 L605.7,284.64 L606.27,284.61 L606.84,284.58 L607.41,284.56 L607.98,284.53 L608.55,284.5 L609.12,284.46 L609.69,284.43 L610.26,284.4 L610.83,284.36 L611.4,284.32 L611.97,284.29 L612.54,284.25 L613.11,284.21 L613.68,284.16 L614.25,284.12 L614.82,284.07 L615.39,284.03 L615.96,283.98 L616.53,283.93 L617.1,283.87 L617.67,283.82 L618.24,283.76 L618.81,283.7 L619.38,283.64 L619.95,283.57 L620.52,283.5 L621.09,283.43 L621.66,283.36 L622.23,283.28 L622.8,283.2 L623.37,283.12 L623.94,283.03 L624.51,282.94 L625.08,282.84 L625.65,282.74 L626.22,282.63 L626.79,282.52 L627.36,282.4 L627.93,282.28 L628.5,282.15 L629.07,282.02 L629.64,281.88 L630.21,281.73 L630.78,281.57 L631.34,281.4 L631.91,281.23 L632.48,281.05 L633.05,280.85 L633.62,280.65 L634.19,280.43 L634.76,280.21 L635.33,279.97 L635.9,279.71 L636.19,279.58 L636.47,279.45 L637.04,279.16 L637.08,279.15 L637.61,278.87 L637.97,278.67 L638.18,278.55 L638.75,278.22 L638.86,278.15 L639.32,277.87 L639.75,277.59 L639.89,277.49 L640.46,277.1 L640.64,276.97 L641.03,276.69 L641.53,276.3 L641.6,276.25 L642.17,275.79 L642.42,275.57 L642.74,275.3 L643.31,274.78 L643.88,274.23 L644.2,273.91 L644.45,273.65 L645.02,273.03 L645.09,272.95 L645.59,272.37 L645.98,271.89 L646.16,271.66 L646.73,270.89 L646.88,270.69 L647.3,270.05 L647.77,269.29 L647.87,269.1 L648.44,268.02 L648.66,267.57 L649.01,266.75 L649.55,265.28 L649.58,265.17 L649.72,264.71 L649.9,264.09 L650.08,263.41 L650.15,263.12 L650.26,262.66 L650.44,261.82 L650.62,260.89 L650.72,260.28 L650.79,259.84 L650.97,258.65 L651.15,257.29 L651.29,256.06 L651.33,255.73 L651.51,253.91 L651.68,251.79 L651.86,249.3 L652.04,246.34 L652.22,242.81 L652.4,238.6 L652.43,237.66 L652.57,233.54 L652.75,227.52 L652.93,220.41 L653,217.25 L653.11,212.22 L653.29,203.17 L653.46,193.89 L653.57,188.65 L653.64,185.49 L653.82,179.49 L654,177.3 L654.14,178.72 L654.18,179.49 L654.36,185.49 L654.53,193.89 L654.71,203.17 L654.89,212.22 L655.07,220.41 L655.25,227.52 L655.28,228.81 L655.42,233.54 L655.6,238.6 L655.78,242.81 L655.85,244.3 L655.96,246.34 L656.14,249.3 L656.31,251.79 L656.42,253.11 L656.49,253.91 L656.67,255.73 L656.85,257.29 L656.99,258.39 L657.03,258.65 L657.21,259.84 L657.38,260.89 L657.56,261.82 L657.74,262.66 L657.92,263.41 L658.1,264.09 L658.13,264.22 L658.27,264.71 L658.45,265.28 L658.7,266 L659.27,267.41 L659.34,267.57 L659.84,268.58 L660.23,269.29 L660.41,269.59 L660.98,270.48 L661.12,270.69 L661.55,271.28 L662.01,271.89 L662.12,272.02 L662.69,272.7 L662.9,272.95 L663.26,273.34 L663.79,273.91 L663.83,273.94 L664.4,274.51 L664.69,274.78 L664.97,275.04 L665.54,275.54 L665.58,275.57 L666.11,276.02 L666.47,276.3 L666.68,276.47 L667.25,276.9 L667.36,276.97 L667.82,277.3 L668.25,277.59 L668.39,277.68 L668.96,278.04 L669.14,278.15 L669.53,278.39 L670.03,278.67 L670.1,278.71 L670.67,279.02 L670.92,279.15 L671.24,279.31 L671.81,279.58 L672.38,279.84 L672.95,280.09 L673.52,280.32 L674.09,280.54 L674.66,280.75 L675.23,280.95 L675.8,281.14 L676.37,281.32 L676.94,281.49 L677.51,281.65 L678.08,281.8 L678.65,281.95 L679.22,282.09 L679.79,282.22 L680.36,282.34 L680.93,282.46 L681.5,282.58 L682.07,282.69 L682.64,282.79 L683.21,282.89 L683.78,282.98 L684.35,283.07 L684.92,283.16 L685.49,283.24 L686.06,283.32 L686.63,283.4 L687.2,283.47 L687.77,283.54 L688.34,283.61 L688.91,283.67 L689.48,283.73 L690.05,283.79 L690.62,283.85 L691.19,283.9 L691.76,283.95 L692.33,284 L692.9,284.05 L693.47,284.1 L694.04,284.14 L694.61,284.19 L695.18,284.23 L695.75,284.27 L696.32,284.31 L696.89,284.34 L697.46,284.38 L698.03,284.41 L698.6,284.45 L699.17,284.48 L699.74,284.51 L700.31,284.54 L700.88,284.57 L701.45,284.6 L702.02,284.63 L702.58,284.65 L703.15,284.68 L703.72,284.7 L704.29,284.73" fill="none" stroke="#e8202c" stroke-width="1.7" stroke-linejoin="round"/>
<path d="M524.2,284.2 L524.77,284.16 L525.34,284.12 L525.91,284.07 L526.48,284.02 L527.05,283.98 L527.62,283.92 L528.19,283.87 L528.76,283.81 L529.33,283.74 L529.9,283.68 L530.47,283.6 L531.04,283.52 L531.61,283.44 L532.18,283.35 L532.75,283.25 L533.32,283.15 L533.89,283.04 L534.17,282.98 L534.46,282.92 L535.03,282.79 L535.06,282.78 L535.6,282.65 L535.95,282.55 L536.17,282.49 L536.74,282.33 L536.85,282.29 L537.31,282.14 L537.74,282 L537.88,281.95 L538.45,281.73 L538.63,281.66 L539.02,281.49 L539.52,281.27 L539.59,281.24 L540.16,280.95 L540.41,280.82 L540.73,280.64 L541.3,280.3 L541.87,279.92 L542.19,279.69 L542.44,279.5 L543.01,279.05 L543.08,278.99 L543.58,278.54 L543.97,278.16 L544.15,277.98 L544.72,277.36 L544.86,277.19 L545.29,276.67 L545.75,276.05 L545.86,275.9 L546.43,275.04 L546.64,274.68 L547,274.06 L547.53,273 L547.57,272.92 L547.71,272.6 L547.89,272.19 L548.07,271.74 L548.14,271.55 L548.24,271.26 L548.42,270.74 L548.6,270.18 L548.71,269.81 L548.78,269.56 L548.96,268.86 L549.13,268.09 L549.28,267.39 L549.31,267.2 L549.49,266.18 L549.67,264.98 L549.85,263.56 L550.02,261.84 L550.2,259.71 L550.38,257.04 L550.42,256.42 L550.56,253.62 L550.74,249.17 L550.92,243.27 L550.99,240.39 L551.09,235.39 L551.27,224.94 L551.45,211.61 L551.56,202.54 L551.63,196.38 L551.81,182.91 L551.98,177.3 L552.13,180.97 L552.16,182.91 L552.34,196.38 L552.52,211.61 L552.7,224.94 L552.87,235.39 L553.05,243.27 L553.23,249.17 L553.27,250.16 L553.41,253.62 L553.59,257.04 L553.76,259.71 L553.84,260.62 L553.94,261.84 L554.12,263.56 L554.3,264.98 L554.41,265.73 L554.48,266.18 L554.66,267.2 L554.83,268.09 L554.98,268.72 L555.01,268.86 L555.19,269.56 L555.37,270.18 L555.55,270.74 L555.72,271.26 L555.9,271.74 L556.08,272.19 L556.12,272.27 L556.26,272.6 L556.44,273 L556.69,273.51 L557.26,274.56 L557.33,274.68 L557.83,275.48 L558.22,276.05 L558.4,276.29 L558.97,277.02 L559.11,277.19 L559.54,277.68 L560,278.16 L560.1,278.27 L560.67,278.8 L560.89,278.99 L561.24,279.28 L561.78,279.69 L561.81,279.72 L562.38,280.11 L562.67,280.3 L562.95,280.47 L563.52,280.8 L563.56,280.82 L564.09,281.1 L564.45,281.27 L564.66,281.37 L565.23,281.62 L565.34,281.66 L565.8,281.84 L566.23,282 L566.37,282.05 L566.94,282.24 L567.12,282.29 L567.51,282.41 L568.01,282.55 L568.08,282.57 L568.65,282.72 L568.9,282.78 L569.22,282.85 L569.79,282.98 L570.36,283.1 L570.93,283.2 L571.5,283.3 L572.07,283.4 L572.64,283.48 L573.21,283.56 L573.78,283.64 L574.35,283.71 L574.92,283.78 L575.49,283.84 L576.06,283.89 L576.63,283.95 L577.2,284 L577.77,284.05 L578.34,284.09 L578.91,284.14 L579.48,284.18 L580.05,284.21 L580.62,284.25 L581.19,284.28 L581.76,284.32 L582.33,284.35 L582.9,284.38 L583.47,284.4 L584.04,284.43 L584.61,284.46 L585.18,284.48 L585.75,284.5 L586.32,284.52 L586.89,284.54 L587.46,284.56 L588.03,284.58 L588.6,284.6 L589.17,284.62 L589.74,284.63 L590.31,284.65 L590.88,284.67 L591.45,284.68 L592.02,284.69 L592.59,284.71 L593.16,284.72 L593.73,284.73 L594.3,284.74 L594.87,284.76 L595.44,284.77 L596.01,284.78 L596.58,284.79 L597.15,284.8 L597.72,284.81 L598.29,284.82 L598.86,284.82 L599.43,284.83 L600,284.84 L600.57,284.85 L601.14,284.86 L601.71,284.86 L602.28,284.87 L602.85,284.88 L603.42,284.89 L603.99,284.89 L604.56,284.9 L605.13,284.9 L605.7,284.91 L606.27,284.92 L606.84,284.92 L607.41,284.93 L607.98,284.93 L608.55,284.94 L609.12,284.94 L609.69,284.95 L610.26,284.95 L610.83,284.96 L611.4,284.96 L611.97,284.96 L612.54,284.97 L613.11,284.97 L613.68,284.98 L614.25,284.98 L614.82,284.98 L615.39,284.99 L615.96,284.99 L616.53,284.99 L617.1,285 L617.67,285 L618.24,285 L618.81,285.01 L619.38,285.01 L619.95,285.01 L620.52,285.02 L621.09,285.02 L621.66,285.02 L622.23,285.02 L622.8,285.03 L623.37,285.03 L623.94,285.03 L624.51,285.03 L625.08,285.04 L625.65,285.04 L626.22,285.04 L626.79,285.04 L627.36,285.05 L627.93,285.05 L628.5,285.05 L629.07,285.05 L629.64,285.05 L630.21,285.06 L630.78,285.06 L631.34,285.06 L631.91,285.06 L632.48,285.06 L633.05,285.07 L633.62,285.07 L634.19,285.07 L634.76,285.07 L635.33,285.07 L635.9,285.07 L636.47,285.08 L637.04,285.08 L637.61,285.08 L638.18,285.08 L638.75,285.08 L639.32,285.08 L639.89,285.08 L640.46,285.09 L641.03,285.09 L641.6,285.09 L642.17,285.09 L642.74,285.09 L643.31,285.09 L643.88,285.09 L644.45,285.09 L645.02,285.1 L645.59,285.1 L646.16,285.1 L646.73,285.1 L647.3,285.1 L647.87,285.1 L648.44,285.1 L649.01,285.1 L649.58,285.1 L650.15,285.1 L650.72,285.11 L651.29,285.11 L651.86,285.11 L652.43,285.11 L653,285.11 L653.57,285.11 L654.14,285.11 L654.71,285.11 L655.28,285.11 L655.85,285.11 L656.42,285.11 L656.99,285.12 L657.56,285.12 L658.13,285.12 L658.7,285.12 L659.27,285.12 L659.84,285.12 L660.41,285.12 L660.98,285.12 L661.55,285.12 L662.12,285.12 L662.69,285.12 L663.26,285.12 L663.83,285.12 L664.4,285.12 L664.97,285.13 L665.54,285.13 L666.11,285.13 L666.68,285.13 L667.25,285.13 L667.82,285.13 L668.39,285.13 L668.96,285.13 L669.53,285.13 L670.1,285.13 L670.67,285.13 L671.24,285.13 L671.81,285.13 L672.38,285.13 L672.95,285.13 L673.52,285.13 L674.09,285.13 L674.66,285.14 L675.23,285.14 L675.8,285.14 L676.37,285.14 L676.94,285.14 L677.51,285.14 L678.08,285.14 L678.65,285.14 L679.22,285.14 L679.79,285.14 L680.36,285.14 L680.93,285.14 L681.5,285.14 L682.07,285.14 L682.64,285.14 L683.21,285.14 L683.78,285.14 L684.35,285.14 L684.92,285.14 L685.49,285.14 L686.06,285.14 L686.63,285.14 L687.2,285.14 L687.77,285.15 L688.34,285.15 L688.91,285.15 L689.48,285.15 L690.05,285.15 L690.62,285.15 L691.19,285.15 L691.76,285.15 L692.33,285.15 L692.9,285.15 L693.47,285.15 L694.04,285.15 L694.61,285.15 L695.18,285.15 L695.75,285.15 L696.32,285.15 L696.89,285.15 L697.46,285.15 L698.03,285.15 L698.6,285.15 L699.17,285.15 L699.74,285.15 L700.31,285.15 L700.88,285.15 L701.45,285.15 L702.02,285.15 L702.58,285.15 L703.15,285.15 L703.72,285.15 L704.29,285.15" fill="none" stroke="#111111" stroke-width="1.3" stroke-linejoin="round"/>
</g>
<rect x="520.3" y="175.2" width="184.1" height="113.8" fill="none" stroke="#1e1e1e" stroke-width="1.3"/>
<line x1="524.2" y1="289" x2="524.2" y2="286.5" stroke="#1e1e1e" stroke-width="1" />
<line x1="524.2" y1="175.2" x2="524.2" y2="177.7" stroke="#1e1e1e" stroke-width="1" />
<text x="524.2" y="302" font-size="14.0" text-anchor="middle" fill="#1a1a1a" stroke="#1a1a1a" stroke-width="0.35"  >0</text>
<line x1="531.32" y1="289" x2="531.32" y2="287.7" stroke="#1e1e1e" stroke-width="1" />
<line x1="531.32" y1="175.2" x2="531.32" y2="176.5" stroke="#1e1e1e" stroke-width="1" />
<line x1="538.45" y1="289" x2="538.45" y2="287.7" stroke="#1e1e1e" stroke-width="1" />
<line x1="538.45" y1="175.2" x2="538.45" y2="176.5" stroke="#1e1e1e" stroke-width="1" />
<line x1="545.57" y1="289" x2="545.57" y2="287.7" stroke="#1e1e1e" stroke-width="1" />
<line x1="545.57" y1="175.2" x2="545.57" y2="176.5" stroke="#1e1e1e" stroke-width="1" />
<line x1="552.7" y1="289" x2="552.7" y2="287.7" stroke="#1e1e1e" stroke-width="1" />
<line x1="552.7" y1="175.2" x2="552.7" y2="176.5" stroke="#1e1e1e" stroke-width="1" />
<line x1="559.82" y1="289" x2="559.82" y2="286.5" stroke="#1e1e1e" stroke-width="1" />
<line x1="559.82" y1="175.2" x2="559.82" y2="177.7" stroke="#1e1e1e" stroke-width="1" />
<text x="559.82" y="302" font-size="14.0" text-anchor="middle" fill="#1a1a1a" stroke="#1a1a1a" stroke-width="0.35"  >5</text>
<line x1="566.94" y1="289" x2="566.94" y2="287.7" stroke="#1e1e1e" stroke-width="1" />
<line x1="566.94" y1="175.2" x2="566.94" y2="176.5" stroke="#1e1e1e" stroke-width="1" />
<line x1="574.07" y1="289" x2="574.07" y2="287.7" stroke="#1e1e1e" stroke-width="1" />
<line x1="574.07" y1="175.2" x2="574.07" y2="176.5" stroke="#1e1e1e" stroke-width="1" />
<line x1="581.19" y1="289" x2="581.19" y2="287.7" stroke="#1e1e1e" stroke-width="1" />
<line x1="581.19" y1="175.2" x2="581.19" y2="176.5" stroke="#1e1e1e" stroke-width="1" />
<line x1="588.32" y1="289" x2="588.32" y2="287.7" stroke="#1e1e1e" stroke-width="1" />
<line x1="588.32" y1="175.2" x2="588.32" y2="176.5" stroke="#1e1e1e" stroke-width="1" />
<line x1="595.44" y1="289" x2="595.44" y2="286.5" stroke="#1e1e1e" stroke-width="1" />
<line x1="595.44" y1="175.2" x2="595.44" y2="177.7" stroke="#1e1e1e" stroke-width="1" />
<text x="595.44" y="302" font-size="14.0" text-anchor="middle" fill="#1a1a1a" stroke="#1a1a1a" stroke-width="0.35"  >10</text>
<line x1="602.56" y1="289" x2="602.56" y2="287.7" stroke="#1e1e1e" stroke-width="1" />
<line x1="602.56" y1="175.2" x2="602.56" y2="176.5" stroke="#1e1e1e" stroke-width="1" />
<line x1="609.69" y1="289" x2="609.69" y2="287.7" stroke="#1e1e1e" stroke-width="1" />
<line x1="609.69" y1="175.2" x2="609.69" y2="176.5" stroke="#1e1e1e" stroke-width="1" />
<line x1="616.81" y1="289" x2="616.81" y2="287.7" stroke="#1e1e1e" stroke-width="1" />
<line x1="616.81" y1="175.2" x2="616.81" y2="176.5" stroke="#1e1e1e" stroke-width="1" />
<line x1="623.94" y1="289" x2="623.94" y2="287.7" stroke="#1e1e1e" stroke-width="1" />
<line x1="623.94" y1="175.2" x2="623.94" y2="176.5" stroke="#1e1e1e" stroke-width="1" />
<line x1="631.06" y1="289" x2="631.06" y2="286.5" stroke="#1e1e1e" stroke-width="1" />
<line x1="631.06" y1="175.2" x2="631.06" y2="177.7" stroke="#1e1e1e" stroke-width="1" />
<text x="631.06" y="302" font-size="14.0" text-anchor="middle" fill="#1a1a1a" stroke="#1a1a1a" stroke-width="0.35"  >15</text>
<line x1="638.18" y1="289" x2="638.18" y2="287.7" stroke="#1e1e1e" stroke-width="1" />
<line x1="638.18" y1="175.2" x2="638.18" y2="176.5" stroke="#1e1e1e" stroke-width="1" />
<line x1="645.31" y1="289" x2="645.31" y2="287.7" stroke="#1e1e1e" stroke-width="1" />
<line x1="645.31" y1="175.2" x2="645.31" y2="176.5" stroke="#1e1e1e" stroke-width="1" />
<line x1="652.43" y1="289" x2="652.43" y2="287.7" stroke="#1e1e1e" stroke-width="1" />
<line x1="652.43" y1="175.2" x2="652.43" y2="176.5" stroke="#1e1e1e" stroke-width="1" />
<line x1="659.56" y1="289" x2="659.56" y2="287.7" stroke="#1e1e1e" stroke-width="1" />
<line x1="659.56" y1="175.2" x2="659.56" y2="176.5" stroke="#1e1e1e" stroke-width="1" />
<line x1="666.68" y1="289" x2="666.68" y2="286.5" stroke="#1e1e1e" stroke-width="1" />
<line x1="666.68" y1="175.2" x2="666.68" y2="177.7" stroke="#1e1e1e" stroke-width="1" />
<text x="666.68" y="302" font-size="14.0" text-anchor="middle" fill="#1a1a1a" stroke="#1a1a1a" stroke-width="0.35"  >20</text>
<line x1="673.8" y1="289" x2="673.8" y2="287.7" stroke="#1e1e1e" stroke-width="1" />
<line x1="673.8" y1="175.2" x2="673.8" y2="176.5" stroke="#1e1e1e" stroke-width="1" />
<line x1="680.93" y1="289" x2="680.93" y2="287.7" stroke="#1e1e1e" stroke-width="1" />
<line x1="680.93" y1="175.2" x2="680.93" y2="176.5" stroke="#1e1e1e" stroke-width="1" />
<line x1="688.05" y1="289" x2="688.05" y2="287.7" stroke="#1e1e1e" stroke-width="1" />
<line x1="688.05" y1="175.2" x2="688.05" y2="176.5" stroke="#1e1e1e" stroke-width="1" />
<line x1="695.18" y1="289" x2="695.18" y2="287.7" stroke="#1e1e1e" stroke-width="1" />
<line x1="695.18" y1="175.2" x2="695.18" y2="176.5" stroke="#1e1e1e" stroke-width="1" />
<line x1="702.3" y1="289" x2="702.3" y2="286.5" stroke="#1e1e1e" stroke-width="1" />
<line x1="702.3" y1="175.2" x2="702.3" y2="177.7" stroke="#1e1e1e" stroke-width="1" />
<text x="702.3" y="302" font-size="14.0" text-anchor="middle" fill="#1a1a1a" stroke="#1a1a1a" stroke-width="0.35"  >25</text>
<line x1="520.3" y1="286.5" x2="522.8" y2="286.5" stroke="#1e1e1e" stroke-width="1" />
<line x1="704.4" y1="286.5" x2="701.9" y2="286.5" stroke="#1e1e1e" stroke-width="1" />
<text x="517.8" y="291.2" font-size="14.0" text-anchor="end" fill="#1a1a1a" stroke="#1a1a1a" stroke-width="0.35"  >0.0</text>
<line x1="520.3" y1="281.04" x2="521.6" y2="281.04" stroke="#1e1e1e" stroke-width="1" />
<line x1="704.4" y1="281.04" x2="703.1" y2="281.04" stroke="#1e1e1e" stroke-width="1" />
<line x1="520.3" y1="275.58" x2="521.6" y2="275.58" stroke="#1e1e1e" stroke-width="1" />
<line x1="704.4" y1="275.58" x2="703.1" y2="275.58" stroke="#1e1e1e" stroke-width="1" />
<line x1="520.3" y1="270.12" x2="521.6" y2="270.12" stroke="#1e1e1e" stroke-width="1" />
<line x1="704.4" y1="270.12" x2="703.1" y2="270.12" stroke="#1e1e1e" stroke-width="1" />
<line x1="520.3" y1="264.66" x2="522.8" y2="264.66" stroke="#1e1e1e" stroke-width="1" />
<line x1="704.4" y1="264.66" x2="701.9" y2="264.66" stroke="#1e1e1e" stroke-width="1" />
<text x="517.8" y="269.36" font-size="14.0" text-anchor="end" fill="#1a1a1a" stroke="#1a1a1a" stroke-width="0.35"  >0.2</text>
<line x1="520.3" y1="259.2" x2="521.6" y2="259.2" stroke="#1e1e1e" stroke-width="1" />
<line x1="704.4" y1="259.2" x2="703.1" y2="259.2" stroke="#1e1e1e" stroke-width="1" />
<line x1="520.3" y1="253.74" x2="521.6" y2="253.74" stroke="#1e1e1e" stroke-width="1" />
<line x1="704.4" y1="253.74" x2="703.1" y2="253.74" stroke="#1e1e1e" stroke-width="1" />
<line x1="520.3" y1="248.28" x2="521.6" y2="248.28" stroke="#1e1e1e" stroke-width="1" />
<line x1="704.4" y1="248.28" x2="703.1" y2="248.28" stroke="#1e1e1e" stroke-width="1" />
<line x1="520.3" y1="242.82" x2="522.8" y2="242.82" stroke="#1e1e1e" stroke-width="1" />
<line x1="704.4" y1="242.82" x2="701.9" y2="242.82" stroke="#1e1e1e" stroke-width="1" />
<text x="517.8" y="247.52" font-size="14.0" text-anchor="end" fill="#1a1a1a" stroke="#1a1a1a" stroke-width="0.35"  >0.4</text>
<line x1="520.3" y1="237.36" x2="521.6" y2="237.36" stroke="#1e1e1e" stroke-width="1" />
<line x1="704.4" y1="237.36" x2="703.1" y2="237.36" stroke="#1e1e1e" stroke-width="1" />
<line x1="520.3" y1="231.9" x2="521.6" y2="231.9" stroke="#1e1e1e" stroke-width="1" />
<line x1="704.4" y1="231.9" x2="703.1" y2="231.9" stroke="#1e1e1e" stroke-width="1" />
<line x1="520.3" y1="226.44" x2="521.6" y2="226.44" stroke="#1e1e1e" stroke-width="1" />
<line x1="704.4" y1="226.44" x2="703.1" y2="226.44" stroke="#1e1e1e" stroke-width="1" />
<line x1="520.3" y1="220.98" x2="522.8" y2="220.98" stroke="#1e1e1e" stroke-width="1" />
<line x1="704.4" y1="220.98" x2="701.9" y2="220.98" stroke="#1e1e1e" stroke-width="1" />
<text x="517.8" y="225.68" font-size="14.0" text-anchor="end" fill="#1a1a1a" stroke="#1a1a1a" stroke-width="0.35"  >0.6</text>
<line x1="520.3" y1="215.52" x2="521.6" y2="215.52" stroke="#1e1e1e" stroke-width="1" />
<line x1="704.4" y1="215.52" x2="703.1" y2="215.52" stroke="#1e1e1e" stroke-width="1" />
<line x1="520.3" y1="210.06" x2="521.6" y2="210.06" stroke="#1e1e1e" stroke-width="1" />
<line x1="704.4" y1="210.06" x2="703.1" y2="210.06" stroke="#1e1e1e" stroke-width="1" />
<line x1="520.3" y1="204.6" x2="521.6" y2="204.6" stroke="#1e1e1e" stroke-width="1" />
<line x1="704.4" y1="204.6" x2="703.1" y2="204.6" stroke="#1e1e1e" stroke-width="1" />
<line x1="520.3" y1="199.14" x2="522.8" y2="199.14" stroke="#1e1e1e" stroke-width="1" />
<line x1="704.4" y1="199.14" x2="701.9" y2="199.14" stroke="#1e1e1e" stroke-width="1" />
<text x="517.8" y="203.84" font-size="14.0" text-anchor="end" fill="#1a1a1a" stroke="#1a1a1a" stroke-width="0.35"  >0.8</text>
<line x1="520.3" y1="193.68" x2="521.6" y2="193.68" stroke="#1e1e1e" stroke-width="1" />
<line x1="704.4" y1="193.68" x2="703.1" y2="193.68" stroke="#1e1e1e" stroke-width="1" />
<line x1="520.3" y1="188.22" x2="521.6" y2="188.22" stroke="#1e1e1e" stroke-width="1" />
<line x1="704.4" y1="188.22" x2="703.1" y2="188.22" stroke="#1e1e1e" stroke-width="1" />
<line x1="520.3" y1="182.76" x2="521.6" y2="182.76" stroke="#1e1e1e" stroke-width="1" />
<line x1="704.4" y1="182.76" x2="703.1" y2="182.76" stroke="#1e1e1e" stroke-width="1" />
<line x1="520.3" y1="177.3" x2="522.8" y2="177.3" stroke="#1e1e1e" stroke-width="1" />
<line x1="704.4" y1="177.3" x2="701.9" y2="177.3" stroke="#1e1e1e" stroke-width="1" />
<text x="517.8" y="182" font-size="14.0" text-anchor="end" fill="#1a1a1a" stroke="#1a1a1a" stroke-width="0.35"  >1.0</text>
<text x="612.6" y="316" font-size="14.0" text-anchor="middle" fill="#1a1a1a" stroke="#1a1a1a" stroke-width="0.35"  ><tspan font-style="italic">f</tspan> (GHz)</text>
<text transform="translate(489.0,232) rotate(-90)" font-size="14.0" text-anchor="middle" fill="#1a1a1a" stroke="#1a1a1a" stroke-width="0.35"><tspan font-style="italic">A</tspan> (a.u.)</text>
<text x="555.3" y="190.6" font-size="14.0" font-style="italic" fill="#1a1a1a" stroke="#1a1a1a" stroke-width="0.35">H<tspan font-size="7.5" font-style="normal" dx="3" dy="2.4" stroke-width="0">0</tspan></text>
<text x="602.3" y="190.6" font-size="14.0" font-style="italic" fill="#2451c0" stroke="#2451c0" stroke-width="0.35">H<tspan font-size="8" font-style="normal" dy="2.6" stroke-width="0.15">stop</tspan></text>
<text x="657.5" y="190.6" font-size="14.0" font-style="italic" fill="#e8202c" stroke="#e8202c" stroke-width="0.35">H<tspan font-size="8" font-style="normal" dy="2.6" stroke-width="0.15">rev</tspan></text>
</svg></body></html>
